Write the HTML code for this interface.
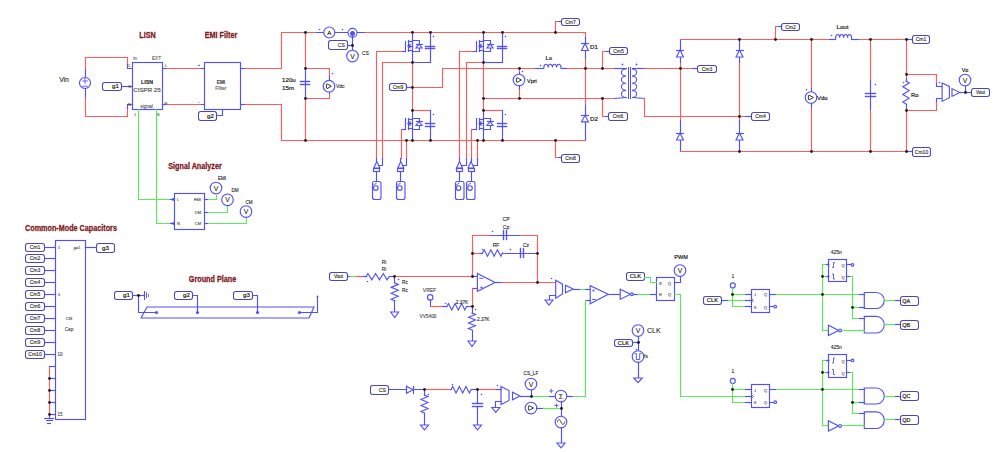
<!DOCTYPE html>
<html><head><meta charset="utf-8"><style>
html,body{margin:0;padding:0;background:#fff;width:1000px;height:452px;overflow:hidden;}
svg{display:block;}
text{font-family:"Liberation Sans",sans-serif;}
</style></head><body>
<svg width="1000" height="452" viewBox="0 0 1000 452">
<rect width="1000" height="452" fill="#fff"/>
<text x="64" y="82" font-size="6.8" fill="#1c1c1c" stroke="#1c1c1c" stroke-width="0.1" text-anchor="middle" font-weight="normal" font-family="Liberation Sans" >Vin</text>
<polyline points="85.5,69.5 85.5,57.5 127.5,57.5 127.5,64.5" fill="none" stroke="#ff5a5a" stroke-width="1.15" stroke-linecap="square"/>
<polyline points="127.5,64.5 127.5,68.5 132.5,68.5" fill="none" stroke="#5252f4" stroke-width="1.15" stroke-linecap="square"/>
<polyline points="85.5,69.5 85.5,97.5" fill="none" stroke="#5252f4" stroke-width="1.15" stroke-linecap="square"/>
<polyline points="85.5,97.5 85.5,116.5 127.5,116.5 127.5,108.5" fill="none" stroke="#ff5a5a" stroke-width="1.15" stroke-linecap="square"/>
<polyline points="127.5,108.5 127.5,104.5 132.5,104.5" fill="none" stroke="#5252f4" stroke-width="1.15" stroke-linecap="square"/>
<circle cx="85" cy="83" r="5.5" fill="#fff" stroke="#5252f4" stroke-width="1.15"/>
<polyline points="82.6,81 87.4,81" fill="none" stroke="#5252f4" stroke-width="0.9" stroke-linecap="square"/>
<polyline points="85,78.6 85,83.4" fill="none" stroke="#5252f4" stroke-width="0.9" stroke-linecap="square"/>
<polyline points="82.6,86.2 87.4,86.2" fill="none" stroke="#5252f4" stroke-width="0.9" stroke-linecap="square"/>
<rect x="102.5" y="82.5" width="19" height="8" rx="2.2" fill="#fff" stroke="#4a46b8" stroke-width="1.05"/>
<text x="119" y="88.4" font-size="6.2" fill="#1c1c1c" stroke="#1c1c1c" stroke-width="0.2" text-anchor="end" font-weight="normal" font-family="Liberation Sans" >g1</text>
<polyline points="121.5,86.5 132.5,86.5" fill="none" stroke="#5252f4" stroke-width="1.15" stroke-linecap="square"/>
<rect x="132.5" y="62.5" width="30" height="47" fill="#fff" stroke="#5252f4" stroke-width="1.15"/>
<text x="133.3" y="60" font-size="4.6" fill="#555" stroke="#555" stroke-width="0.1" text-anchor="start" font-weight="normal" font-family="Liberation Mono" >in</text>
<text x="156.5" y="60" font-size="4.6" fill="#555" stroke="#555" stroke-width="0.1" text-anchor="middle" font-weight="normal" font-family="Liberation Mono" >EXT</text>
<text x="129.5" y="67" font-size="4" fill="#444" stroke="#444" stroke-width="0.1" text-anchor="middle" font-weight="normal" font-family="Liberation Sans" >L</text>
<text x="129.5" y="88" font-size="4" fill="#444" stroke="#444" stroke-width="0.1" text-anchor="middle" font-weight="normal" font-family="Liberation Sans" >G</text>
<text x="129.5" y="106" font-size="4" fill="#444" stroke="#444" stroke-width="0.1" text-anchor="middle" font-weight="normal" font-family="Liberation Sans" >N</text>
<text x="166" y="67" font-size="4" fill="#444" stroke="#444" stroke-width="0.1" text-anchor="middle" font-weight="normal" font-family="Liberation Sans" >L</text>
<text x="166" y="105" font-size="4" fill="#444" stroke="#444" stroke-width="0.1" text-anchor="middle" font-weight="normal" font-family="Liberation Sans" >N</text>
<text x="147" y="84" font-size="5.3" fill="#1c1c1c" stroke="#1c1c1c" stroke-width="0.1" text-anchor="middle" font-weight="bold" font-family="Liberation Mono" >LISN</text>
<text x="147" y="92" font-size="6.2" fill="#555" stroke="#555" stroke-width="0.2" text-anchor="middle" font-weight="normal" font-family="Liberation Mono" >CISPR 25</text>
<text x="146.6" y="107.8" font-size="4.8" fill="#555" stroke="#555" stroke-width="0.1" text-anchor="middle" font-weight="normal" font-family="Liberation Mono" >signal</text>
<text x="135.5" y="115.5" font-size="4" fill="#444" stroke="#444" stroke-width="0.1" text-anchor="middle" font-weight="normal" font-family="Liberation Sans" >L</text>
<text x="158" y="115.5" font-size="4" fill="#444" stroke="#444" stroke-width="0.1" text-anchor="middle" font-weight="normal" font-family="Liberation Sans" >N</text>
<polyline points="162.5,68.5 167.5,68.5" fill="none" stroke="#5252f4" stroke-width="1.15" stroke-linecap="square"/>
<polyline points="167.5,68.5 201.5,68.5" fill="none" stroke="#ff5a5a" stroke-width="1.15" stroke-linecap="square"/>
<polyline points="201.5,68.5 204.5,68.5" fill="none" stroke="#5252f4" stroke-width="1.15" stroke-linecap="square"/>
<polyline points="162.5,104.5 167.5,104.5" fill="none" stroke="#5252f4" stroke-width="1.15" stroke-linecap="square"/>
<polyline points="167.5,104.5 201.5,104.5" fill="none" stroke="#ff5a5a" stroke-width="1.15" stroke-linecap="square"/>
<polyline points="201.5,104.5 204.5,104.5" fill="none" stroke="#5252f4" stroke-width="1.15" stroke-linecap="square"/>
<text x="199" y="66" font-size="4" fill="#444" stroke="#444" stroke-width="0.1" text-anchor="middle" font-weight="normal" font-family="Liberation Sans" >+</text>
<text x="199" y="103" font-size="4" fill="#444" stroke="#444" stroke-width="0.1" text-anchor="middle" font-weight="normal" font-family="Liberation Sans" >-</text>
<rect x="204.5" y="62.5" width="36" height="47" fill="#fff" stroke="#5252f4" stroke-width="1.15"/>
<text x="221" y="83.7" font-size="4.7" fill="#444" stroke="#444" stroke-width="0.1" text-anchor="middle" font-weight="bold" font-family="Liberation Mono" >EMI</text>
<text x="220.8" y="90.3" font-size="5.05" fill="#555" stroke="#555" stroke-width="0.1" text-anchor="middle" font-weight="normal" font-family="Liberation Mono" >Filter</text>
<rect x="198.5" y="111.5" width="18" height="9" rx="2.2" fill="#fff" stroke="#4a46b8" stroke-width="1.05"/>
<text x="214" y="117.9" font-size="6.2" fill="#1c1c1c" stroke="#1c1c1c" stroke-width="0.2" text-anchor="end" font-weight="normal" font-family="Liberation Sans" >g2</text>
<polyline points="216.5,115.5 222.5,115.5 222.5,109.5" fill="none" stroke="#5252f4" stroke-width="1.15" stroke-linecap="square"/>
<text transform="translate(147.5,38) scale(0.86,1)" font-size="8.4" fill="#7e1620" stroke="#7e1620" stroke-width="0.25" text-anchor="middle" font-weight="bold" font-family="Liberation Sans">LISN</text>
<text transform="translate(221,38) scale(0.86,1)" font-size="8.4" fill="#7e1620" stroke="#7e1620" stroke-width="0.25" text-anchor="middle" font-weight="bold" font-family="Liberation Sans">EMI Filter</text>
<polyline points="240.5,68.5 245.5,68.5" fill="none" stroke="#5252f4" stroke-width="1.15" stroke-linecap="square"/>
<polyline points="245.5,68.5 281.5,68.5 281.5,32.5 316.5,32.5" fill="none" stroke="#ff5a5a" stroke-width="1.15" stroke-linecap="square"/>
<polyline points="240.5,104.5 245.5,104.5" fill="none" stroke="#5252f4" stroke-width="1.15" stroke-linecap="square"/>
<polyline points="245.5,104.5 281.5,104.5 281.5,140.5 585.5,140.5 585.5,139.5" fill="none" stroke="#ff5a5a" stroke-width="1.15" stroke-linecap="square"/>
<polyline points="138.5,109.5 138.5,199.5 172.5,199.5" fill="none" stroke="#5ee85e" stroke-width="1.15" stroke-linecap="square"/>
<polyline points="156.5,109.5 156.5,223.5 172.5,223.5" fill="none" stroke="#5ee85e" stroke-width="1.15" stroke-linecap="square"/>
<polyline points="170.5,199.5 174.5,199.5" fill="none" stroke="#5252f4" stroke-width="1.15" stroke-linecap="square"/>
<polyline points="170.5,223.5 174.5,223.5" fill="none" stroke="#5252f4" stroke-width="1.15" stroke-linecap="square"/>
<text transform="translate(195,169) scale(0.86,1)" font-size="8.4" fill="#7e1620" stroke="#7e1620" stroke-width="0.25" text-anchor="middle" font-weight="bold" font-family="Liberation Sans">Signal Analyzer</text>
<rect x="174.5" y="193.5" width="30" height="36" fill="#fff" stroke="#5252f4" stroke-width="1.15"/>
<text x="177" y="201" font-size="4" fill="#444" stroke="#444" stroke-width="0.1" text-anchor="start" font-weight="normal" font-family="Liberation Sans" >L</text>
<text x="177" y="225" font-size="4" fill="#444" stroke="#444" stroke-width="0.1" text-anchor="start" font-weight="normal" font-family="Liberation Sans" >N</text>
<text x="201" y="201" font-size="4" fill="#444" stroke="#444" stroke-width="0.1" text-anchor="end" font-weight="normal" font-family="Liberation Sans" >EMI</text>
<text x="201" y="214" font-size="4" fill="#444" stroke="#444" stroke-width="0.1" text-anchor="end" font-weight="normal" font-family="Liberation Sans" >DM</text>
<text x="201" y="225" font-size="4" fill="#444" stroke="#444" stroke-width="0.1" text-anchor="end" font-weight="normal" font-family="Liberation Sans" >CM</text>
<polyline points="204.5,199.5 208.5,199.5" fill="none" stroke="#5252f4" stroke-width="1.15" stroke-linecap="square"/>
<polyline points="208.5,199.5 216.5,199.5 216.5,195.5" fill="none" stroke="#5ee85e" stroke-width="1.15" stroke-linecap="square"/>
<polyline points="204.5,212.5 208.5,212.5" fill="none" stroke="#5252f4" stroke-width="1.15" stroke-linecap="square"/>
<polyline points="208.5,212.5 227.5,212.5 227.5,206.5" fill="none" stroke="#5ee85e" stroke-width="1.15" stroke-linecap="square"/>
<polyline points="204.5,223.5 208.5,223.5" fill="none" stroke="#5252f4" stroke-width="1.15" stroke-linecap="square"/>
<polyline points="208.5,223.5 246.5,223.5 246.5,218.5" fill="none" stroke="#5ee85e" stroke-width="1.15" stroke-linecap="square"/>
<circle cx="216" cy="188" r="5.8" fill="#fff" stroke="#5252f4" stroke-width="1.15"/>
<text x="216" y="190.5" font-size="6.8" fill="#1c1c1c" stroke="#1c1c1c" stroke-width="0.1" text-anchor="middle" font-weight="normal" font-family="Liberation Sans" >V</text>
<circle cx="227.5" cy="199.8" r="5.8" fill="#fff" stroke="#5252f4" stroke-width="1.15"/>
<text x="227.5" y="202.3" font-size="6.8" fill="#1c1c1c" stroke="#1c1c1c" stroke-width="0.1" text-anchor="middle" font-weight="normal" font-family="Liberation Sans" >V</text>
<circle cx="246" cy="211.5" r="5.8" fill="#fff" stroke="#5252f4" stroke-width="1.15"/>
<text x="246" y="214" font-size="6.8" fill="#1c1c1c" stroke="#1c1c1c" stroke-width="0.1" text-anchor="middle" font-weight="normal" font-family="Liberation Sans" >V</text>
<text x="222" y="180" font-size="4.6" fill="#1c1c1c" stroke="#1c1c1c" stroke-width="0.1" text-anchor="middle" font-weight="normal" font-family="Liberation Sans" >EMI</text>
<text x="235" y="192" font-size="4.6" fill="#1c1c1c" stroke="#1c1c1c" stroke-width="0.1" text-anchor="middle" font-weight="normal" font-family="Liberation Sans" >DM</text>
<text x="249" y="203.5" font-size="4.6" fill="#1c1c1c" stroke="#1c1c1c" stroke-width="0.1" text-anchor="middle" font-weight="normal" font-family="Liberation Sans" >CM</text>
<text transform="translate(71,230.5) scale(0.86,1)" font-size="8.4" fill="#7e1620" stroke="#7e1620" stroke-width="0.25" text-anchor="middle" font-weight="bold" font-family="Liberation Sans">Common-Mode Capacitors</text>
<rect x="55.5" y="240.5" width="30" height="179" fill="#fff" stroke="#5252f4" stroke-width="1.15"/>
<rect x="25.5" y="243.5" width="19" height="8" rx="2.2" fill="#fff" stroke="#4a46b8" stroke-width="1.05"/>
<text x="35" y="249.4" font-size="5" fill="#1c1c1c" stroke="#1c1c1c" stroke-width="0.1" text-anchor="middle" font-weight="normal" font-family="Liberation Sans" >Cm1</text>
<polyline points="44.5,247.5 55.5,247.5" fill="none" stroke="#5252f4" stroke-width="1.15" stroke-linecap="square"/>
<rect x="25.5" y="254.5" width="19" height="8" rx="2.2" fill="#fff" stroke="#4a46b8" stroke-width="1.05"/>
<text x="35" y="260.4" font-size="5" fill="#1c1c1c" stroke="#1c1c1c" stroke-width="0.1" text-anchor="middle" font-weight="normal" font-family="Liberation Sans" >Cm2</text>
<polyline points="44.5,258.5 55.5,258.5" fill="none" stroke="#5252f4" stroke-width="1.15" stroke-linecap="square"/>
<rect x="25.5" y="266.5" width="19" height="8" rx="2.2" fill="#fff" stroke="#4a46b8" stroke-width="1.05"/>
<text x="35" y="272.4" font-size="5" fill="#1c1c1c" stroke="#1c1c1c" stroke-width="0.1" text-anchor="middle" font-weight="normal" font-family="Liberation Sans" >Cm3</text>
<polyline points="44.5,270.5 55.5,270.5" fill="none" stroke="#5252f4" stroke-width="1.15" stroke-linecap="square"/>
<rect x="25.5" y="278.5" width="19" height="8" rx="2.2" fill="#fff" stroke="#4a46b8" stroke-width="1.05"/>
<text x="35" y="284.4" font-size="5" fill="#1c1c1c" stroke="#1c1c1c" stroke-width="0.1" text-anchor="middle" font-weight="normal" font-family="Liberation Sans" >Cm4</text>
<polyline points="44.5,282.5 55.5,282.5" fill="none" stroke="#5252f4" stroke-width="1.15" stroke-linecap="square"/>
<rect x="25.5" y="290.5" width="19" height="8" rx="2.2" fill="#fff" stroke="#4a46b8" stroke-width="1.05"/>
<text x="35" y="296.4" font-size="5" fill="#1c1c1c" stroke="#1c1c1c" stroke-width="0.1" text-anchor="middle" font-weight="normal" font-family="Liberation Sans" >Cm5</text>
<polyline points="44.5,294.5 55.5,294.5" fill="none" stroke="#5252f4" stroke-width="1.15" stroke-linecap="square"/>
<rect x="25.5" y="302.5" width="19" height="8" rx="2.2" fill="#fff" stroke="#4a46b8" stroke-width="1.05"/>
<text x="35" y="308.4" font-size="5" fill="#1c1c1c" stroke="#1c1c1c" stroke-width="0.1" text-anchor="middle" font-weight="normal" font-family="Liberation Sans" >Cm6</text>
<polyline points="44.5,306.5 55.5,306.5" fill="none" stroke="#5252f4" stroke-width="1.15" stroke-linecap="square"/>
<rect x="25.5" y="314.5" width="19" height="8" rx="2.2" fill="#fff" stroke="#4a46b8" stroke-width="1.05"/>
<text x="35" y="320.4" font-size="5" fill="#1c1c1c" stroke="#1c1c1c" stroke-width="0.1" text-anchor="middle" font-weight="normal" font-family="Liberation Sans" >Cm7</text>
<polyline points="44.5,318.5 55.5,318.5" fill="none" stroke="#5252f4" stroke-width="1.15" stroke-linecap="square"/>
<rect x="25.5" y="326.5" width="19" height="8" rx="2.2" fill="#fff" stroke="#4a46b8" stroke-width="1.05"/>
<text x="35" y="332.4" font-size="5" fill="#1c1c1c" stroke="#1c1c1c" stroke-width="0.1" text-anchor="middle" font-weight="normal" font-family="Liberation Sans" >Cm8</text>
<polyline points="44.5,330.5 55.5,330.5" fill="none" stroke="#5252f4" stroke-width="1.15" stroke-linecap="square"/>
<rect x="25.5" y="338.5" width="19" height="8" rx="2.2" fill="#fff" stroke="#4a46b8" stroke-width="1.05"/>
<text x="35" y="344.4" font-size="5" fill="#1c1c1c" stroke="#1c1c1c" stroke-width="0.1" text-anchor="middle" font-weight="normal" font-family="Liberation Sans" >Cm9</text>
<polyline points="44.5,342.5 55.5,342.5" fill="none" stroke="#5252f4" stroke-width="1.15" stroke-linecap="square"/>
<rect x="25.5" y="350.5" width="19" height="8" rx="2.2" fill="#fff" stroke="#4a46b8" stroke-width="1.05"/>
<text x="35" y="356.4" font-size="5" fill="#1c1c1c" stroke="#1c1c1c" stroke-width="0.1" text-anchor="middle" font-weight="normal" font-family="Liberation Sans" >Cm10</text>
<polyline points="44.5,354.5 55.5,354.5" fill="none" stroke="#5252f4" stroke-width="1.15" stroke-linecap="square"/>
<text x="58" y="249" font-size="4" fill="#444" stroke="#444" stroke-width="0.1" text-anchor="start" font-weight="normal" font-family="Liberation Sans" >1</text>
<text x="58" y="296" font-size="4" fill="#444" stroke="#444" stroke-width="0.1" text-anchor="start" font-weight="normal" font-family="Liberation Sans" >5</text>
<text x="57.5" y="356" font-size="4.5" fill="#444" stroke="#444" stroke-width="0.1" text-anchor="start" font-weight="normal" font-family="Liberation Sans" >10</text>
<text x="57.5" y="416" font-size="4.5" fill="#444" stroke="#444" stroke-width="0.1" text-anchor="start" font-weight="normal" font-family="Liberation Sans" >15</text>
<text x="77" y="249" font-size="4" fill="#444" stroke="#444" stroke-width="0.1" text-anchor="middle" font-weight="normal" font-family="Liberation Sans" >g=1</text>
<text x="69" y="320" font-size="4.2" fill="#444" stroke="#444" stroke-width="0.1" text-anchor="middle" font-weight="normal" font-family="Liberation Sans" >CM</text>
<text x="69" y="331" font-size="4.6" fill="#444" stroke="#444" stroke-width="0.1" text-anchor="middle" font-weight="normal" font-family="Liberation Sans" >Cap</text>
<rect x="96.5" y="243.5" width="18" height="9" rx="2.2" fill="#fff" stroke="#4a46b8" stroke-width="1.05"/>
<text x="105.5" y="249.9" font-size="6.2" fill="#1c1c1c" stroke="#1c1c1c" stroke-width="0.2" text-anchor="middle" font-weight="normal" font-family="Liberation Sans" >g3</text>
<polyline points="85.5,247.5 96.5,247.5" fill="none" stroke="#5252f4" stroke-width="1.15" stroke-linecap="square"/>
<polyline points="49.5,366.5 49.5,414.5" fill="none" stroke="#ff5a5a" stroke-width="1.15" stroke-linecap="square"/>
<polyline points="49.5,366.5 55.5,366.5" fill="none" stroke="#5252f4" stroke-width="1.15" stroke-linecap="square"/>
<polyline points="49.5,378.5 55.5,378.5" fill="none" stroke="#5252f4" stroke-width="1.15" stroke-linecap="square"/>
<polyline points="49.5,390.5 55.5,390.5" fill="none" stroke="#5252f4" stroke-width="1.15" stroke-linecap="square"/>
<polyline points="49.5,402.5 55.5,402.5" fill="none" stroke="#5252f4" stroke-width="1.15" stroke-linecap="square"/>
<polyline points="49.5,414.5 55.5,414.5" fill="none" stroke="#5252f4" stroke-width="1.15" stroke-linecap="square"/>
<polyline points="49.5,414.5 49.5,418.5" fill="none" stroke="#5252f4" stroke-width="1.15" stroke-linecap="square"/>
<polyline points="44.5,418.5 53.5,418.5" fill="none" stroke="#5252f4" stroke-width="1.15" stroke-linecap="square"/>
<polyline points="46.5,420.5 52.5,420.5" fill="none" stroke="#5252f4" stroke-width="1.15" stroke-linecap="square"/>
<polyline points="47.5,423.5 50.5,423.5" fill="none" stroke="#5252f4" stroke-width="1.15" stroke-linecap="square"/>
<text transform="translate(212.5,281.5) scale(0.86,1)" font-size="8.4" fill="#7e1620" stroke="#7e1620" stroke-width="0.25" text-anchor="middle" font-weight="bold" font-family="Liberation Sans">Ground Plane</text>
<rect x="114.5" y="291.5" width="18" height="8" rx="2.2" fill="#fff" stroke="#4a46b8" stroke-width="1.05"/>
<text x="130" y="297.4" font-size="6.2" fill="#1c1c1c" stroke="#1c1c1c" stroke-width="0.2" text-anchor="end" font-weight="normal" font-family="Liberation Sans" >g1</text>
<rect x="174.5" y="291.5" width="18" height="8" rx="2.2" fill="#fff" stroke="#4a46b8" stroke-width="1.05"/>
<text x="190" y="297.4" font-size="6.2" fill="#1c1c1c" stroke="#1c1c1c" stroke-width="0.2" text-anchor="end" font-weight="normal" font-family="Liberation Sans" >g2</text>
<rect x="233.5" y="291.5" width="19" height="8" rx="2.2" fill="#fff" stroke="#4a46b8" stroke-width="1.05"/>
<text x="250" y="297.4" font-size="6.2" fill="#1c1c1c" stroke="#1c1c1c" stroke-width="0.2" text-anchor="end" font-weight="normal" font-family="Liberation Sans" >g3</text>
<polyline points="132.5,295.5 144.5,295.5" fill="none" stroke="#5252f4" stroke-width="1.15" stroke-linecap="square"/>
<polyline points="144.5,291.5 144.5,299.5" fill="none" stroke="#5252f4" stroke-width="1.1" stroke-linecap="square"/>
<polyline points="146.5,292.5 146.5,297.5" fill="none" stroke="#5252f4" stroke-width="0.9" stroke-linecap="square"/>
<polyline points="148.5,294.5 148.5,296.5" fill="none" stroke="#5252f4" stroke-width="0.8" stroke-linecap="square"/>
<polyline points="138.5,295.5 138.5,312.5 156.5,312.5" fill="none" stroke="#5252f4" stroke-width="1.15" stroke-linecap="square"/>
<polygon points="141,318 147,307 314,307 309,318" fill="none" stroke="#5252f4" stroke-width="1.15"/>
<polyline points="192.5,295.5 197.5,295.5 197.5,312.5" fill="none" stroke="#5252f4" stroke-width="1.15" stroke-linecap="square"/>
<polyline points="252.5,295.5 257.5,295.5 257.5,312.5" fill="none" stroke="#5252f4" stroke-width="1.15" stroke-linecap="square"/>
<polyline points="299.5,312.5 317.5,312.5 317.5,296.5" fill="none" stroke="#5252f4" stroke-width="1.15" stroke-linecap="square"/>
<polyline points="305.5,32.5 305.5,68.5" fill="none" stroke="#ff5a5a" stroke-width="1.15" stroke-linecap="square"/>
<polyline points="305.5,68.5 305.5,98.5" fill="none" stroke="#5252f4" stroke-width="1.15" stroke-linecap="square"/>
<polyline points="305.5,98.5 305.5,140.5" fill="none" stroke="#ff5a5a" stroke-width="1.15" stroke-linecap="square"/>
<polyline points="300.5,81.5 309.5,81.5" fill="none" stroke="#5252f4" stroke-width="1.4" stroke-linecap="square"/>
<polyline points="300.5,84.5 309.5,84.5" fill="none" stroke="#5252f4" stroke-width="1.4" stroke-linecap="square"/>
<text x="282" y="82" font-size="6.2" fill="#1c1c1c" stroke="#1c1c1c" stroke-width="0.2" text-anchor="start" font-weight="normal" font-family="Liberation Sans" >120u</text>
<text x="282" y="90" font-size="6.2" fill="#1c1c1c" stroke="#1c1c1c" stroke-width="0.2" text-anchor="start" font-weight="normal" font-family="Liberation Sans" >15m</text>
<polyline points="305.5,68.5 329.5,68.5 329.5,76.5" fill="none" stroke="#ff5a5a" stroke-width="1.15" stroke-linecap="square"/>
<polyline points="329.5,76.5 329.5,80.5" fill="none" stroke="#5252f4" stroke-width="1.15" stroke-linecap="square"/>
<polyline points="329.5,91.5 329.5,94.5" fill="none" stroke="#5252f4" stroke-width="1.15" stroke-linecap="square"/>
<polyline points="329.5,94.5 329.5,98.5 305.5,98.5" fill="none" stroke="#ff5a5a" stroke-width="1.15" stroke-linecap="square"/>
<circle cx="329" cy="86.2" r="5.8" fill="#fff" stroke="#5252f4" stroke-width="1.15"/>
<path d="M327,83.8 L331.4,86.2 L327,88.6 M326.4,83.9 v4.6" fill="none" stroke="#2a2a3a" stroke-width="0.95"/>
<text x="336" y="88" font-size="5" fill="#1c1c1c" stroke="#1c1c1c" stroke-width="0.1" text-anchor="start" font-weight="normal" font-family="Liberation Sans" >Vdc</text>
<polyline points="316.5,32.5 365.5,32.5" fill="none" stroke="#5252f4" stroke-width="1.15" stroke-linecap="square"/>
<circle cx="329.3" cy="32.5" r="5.5" fill="#fff" stroke="#5252f4" stroke-width="1.15"/>
<text x="329.3" y="34.8" font-size="6" fill="#1c1c1c" stroke="#1c1c1c" stroke-width="0.2" text-anchor="middle" font-weight="normal" font-family="Liberation Sans" >A</text>
<circle cx="352.5" cy="32.8" r="4.5" fill="#fff" stroke="#5252f4" stroke-width="1.15"/>
<polyline points="352.5,33.5 352.5,50.5" fill="none" stroke="#5252f4" stroke-width="1.15" stroke-linecap="square"/>
<rect x="328.5" y="40.5" width="19" height="9" rx="2.2" fill="#fff" stroke="#4a46b8" stroke-width="1.05"/>
<text x="345" y="46.9" font-size="5.2" fill="#1c1c1c" stroke="#1c1c1c" stroke-width="0.1" text-anchor="end" font-weight="normal" font-family="Liberation Sans" >CS</text>
<polyline points="347.5,45.5 352.5,45.5" fill="none" stroke="#5252f4" stroke-width="1.15" stroke-linecap="square"/>
<circle cx="352.5" cy="56" r="5.8" fill="#fff" stroke="#5252f4" stroke-width="1.15"/>
<text x="352.5" y="58.5" font-size="6.8" fill="#1c1c1c" stroke="#1c1c1c" stroke-width="0.1" text-anchor="middle" font-weight="normal" font-family="Liberation Sans" >V</text>
<text x="362" y="55" font-size="5" fill="#1c1c1c" stroke="#1c1c1c" stroke-width="0.1" text-anchor="start" font-weight="normal" font-family="Liberation Sans" >CS</text>
<polyline points="365.5,32.5 585.5,32.5 585.5,37.5" fill="none" stroke="#ff5a5a" stroke-width="1.15" stroke-linecap="square"/>
<polyline points="412.5,32.5 412.5,62.5 430.5,62.5 430.5,32.5" fill="none" stroke="#5252f4" stroke-width="1.15" stroke-linecap="square"/>
<polyline points="405.5,41.5 405.5,51.5" fill="none" stroke="#5252f4" stroke-width="1.15" stroke-linecap="square"/>
<polyline points="408.5,40.5 408.5,43.5" fill="none" stroke="#5252f4" stroke-width="1.15" stroke-linecap="square"/>
<polyline points="408.5,44.5 408.5,47.5" fill="none" stroke="#5252f4" stroke-width="1.15" stroke-linecap="square"/>
<polyline points="408.5,48.5 408.5,51.5" fill="none" stroke="#5252f4" stroke-width="1.15" stroke-linecap="square"/>
<polyline points="408.5,41.5 412.5,41.5" fill="none" stroke="#5252f4" stroke-width="1.15" stroke-linecap="square"/>
<polyline points="408.5,50.5 412.5,50.5" fill="none" stroke="#5252f4" stroke-width="1.15" stroke-linecap="square"/>
<polyline points="408.5,46.5 412.5,46.5" fill="none" stroke="#5252f4" stroke-width="1.15" stroke-linecap="square"/>
<polygon points="408,46 410,44.4 410,47.6" fill="#5252f4" stroke="#5252f4" stroke-width="1.15"/>
<polyline points="412.5,40.5 419.5,40.5 419.5,51.5 412.5,51.5" fill="none" stroke="#5252f4" stroke-width="1.15" stroke-linecap="square"/>
<polygon points="416,48 422,48 419,44" fill="#fff" stroke="#5252f4" stroke-width="1.15"/>
<polyline points="416.5,44.5 422.5,44.5" fill="none" stroke="#5252f4" stroke-width="1.15" stroke-linecap="square"/>
<polyline points="405.5,51.5 401.5,51.5" fill="none" stroke="#5252f4" stroke-width="1.15" stroke-linecap="square"/>
<polyline points="401.5,51.5 376.5,51.5 376.5,158.5" fill="none" stroke="#ff5a5a" stroke-width="1.15" stroke-linecap="square"/>
<polyline points="425.5,46.5 434.5,46.5" fill="none" stroke="#5252f4" stroke-width="1.4" stroke-linecap="square"/>
<polyline points="425.5,48.5 434.5,48.5" fill="none" stroke="#5252f4" stroke-width="1.4" stroke-linecap="square"/>
<polyline points="382.5,158.5 382.5,62.5 412.5,62.5" fill="none" stroke="#ff5a5a" stroke-width="1.15" stroke-linecap="square"/>
<polyline points="412.5,62.5 412.5,110.5" fill="none" stroke="#ff5a5a" stroke-width="1.15" stroke-linecap="square"/>
<rect x="389.5" y="83.5" width="17" height="7" rx="2.2" fill="#fff" stroke="#4a46b8" stroke-width="1.05"/>
<text x="398" y="88.9" font-size="5" fill="#1c1c1c" stroke="#1c1c1c" stroke-width="0.1" text-anchor="middle" font-weight="normal" font-family="Liberation Sans" >Cm9</text>
<polyline points="406.5,87.5 412.5,87.5" fill="none" stroke="#5252f4" stroke-width="1.15" stroke-linecap="square"/>
<polyline points="412.5,87.5 442.5,87.5 442.5,68.5 535.5,68.5" fill="none" stroke="#ff5a5a" stroke-width="1.15" stroke-linecap="square"/>
<polyline points="412.5,110.5 430.5,110.5" fill="none" stroke="#ff5a5a" stroke-width="1.15" stroke-linecap="square"/>
<polyline points="412.5,110.5 412.5,140.5" fill="none" stroke="#5252f4" stroke-width="1.15" stroke-linecap="square"/>
<polyline points="430.5,110.5 430.5,140.5" fill="none" stroke="#5252f4" stroke-width="1.15" stroke-linecap="square"/>
<polyline points="405.5,118.5 405.5,129.5" fill="none" stroke="#5252f4" stroke-width="1.15" stroke-linecap="square"/>
<polyline points="408.5,118.5 408.5,121.5" fill="none" stroke="#5252f4" stroke-width="1.15" stroke-linecap="square"/>
<polyline points="408.5,122.5 408.5,125.5" fill="none" stroke="#5252f4" stroke-width="1.15" stroke-linecap="square"/>
<polyline points="408.5,126.5 408.5,129.5" fill="none" stroke="#5252f4" stroke-width="1.15" stroke-linecap="square"/>
<polyline points="408.5,119.5 412.5,119.5" fill="none" stroke="#5252f4" stroke-width="1.15" stroke-linecap="square"/>
<polyline points="408.5,128.5 412.5,128.5" fill="none" stroke="#5252f4" stroke-width="1.15" stroke-linecap="square"/>
<polyline points="408.5,123.5 412.5,123.5" fill="none" stroke="#5252f4" stroke-width="1.15" stroke-linecap="square"/>
<polygon points="408,123.5 410,121.9 410,125.1" fill="#5252f4" stroke="#5252f4" stroke-width="1.15"/>
<polyline points="412.5,118.5 419.5,118.5 419.5,129.5 412.5,129.5" fill="none" stroke="#5252f4" stroke-width="1.15" stroke-linecap="square"/>
<polygon points="416,125.5 422,125.5 419,121.5" fill="#fff" stroke="#5252f4" stroke-width="1.15"/>
<polyline points="416.5,121.5 422.5,121.5" fill="none" stroke="#5252f4" stroke-width="1.15" stroke-linecap="square"/>
<polyline points="425.5,123.5 434.5,123.5" fill="none" stroke="#5252f4" stroke-width="1.4" stroke-linecap="square"/>
<polyline points="425.5,126.5 434.5,126.5" fill="none" stroke="#5252f4" stroke-width="1.4" stroke-linecap="square"/>
<polyline points="405.5,129.5 401.5,129.5" fill="none" stroke="#5252f4" stroke-width="1.15" stroke-linecap="square"/>
<polyline points="401.5,129.5 401.5,158.5" fill="none" stroke="#ff5a5a" stroke-width="1.15" stroke-linecap="square"/>
<polyline points="406.5,140.5 406.5,158.5" fill="none" stroke="#ff5a5a" stroke-width="1.15" stroke-linecap="square"/>
<polyline points="483.5,32.5 483.5,62.5" fill="none" stroke="#5252f4" stroke-width="1.15" stroke-linecap="square"/>
<polyline points="502.5,32.5 502.5,62.5" fill="none" stroke="#5252f4" stroke-width="1.15" stroke-linecap="square"/>
<polyline points="476.5,41.5 476.5,51.5" fill="none" stroke="#5252f4" stroke-width="1.15" stroke-linecap="square"/>
<polyline points="479.5,40.5 479.5,43.5" fill="none" stroke="#5252f4" stroke-width="1.15" stroke-linecap="square"/>
<polyline points="479.5,44.5 479.5,47.5" fill="none" stroke="#5252f4" stroke-width="1.15" stroke-linecap="square"/>
<polyline points="479.5,48.5 479.5,51.5" fill="none" stroke="#5252f4" stroke-width="1.15" stroke-linecap="square"/>
<polyline points="479.5,41.5 483.5,41.5" fill="none" stroke="#5252f4" stroke-width="1.15" stroke-linecap="square"/>
<polyline points="479.5,50.5 483.5,50.5" fill="none" stroke="#5252f4" stroke-width="1.15" stroke-linecap="square"/>
<polyline points="479.5,46.5 483.5,46.5" fill="none" stroke="#5252f4" stroke-width="1.15" stroke-linecap="square"/>
<polygon points="479,46 481,44.4 481,47.6" fill="#5252f4" stroke="#5252f4" stroke-width="1.15"/>
<polyline points="483.5,40.5 490.5,40.5 490.5,51.5 483.5,51.5" fill="none" stroke="#5252f4" stroke-width="1.15" stroke-linecap="square"/>
<polygon points="487,48 493,48 490,44" fill="#fff" stroke="#5252f4" stroke-width="1.15"/>
<polyline points="487.5,44.5 493.5,44.5" fill="none" stroke="#5252f4" stroke-width="1.15" stroke-linecap="square"/>
<polyline points="497.5,46.5 506.5,46.5" fill="none" stroke="#5252f4" stroke-width="1.4" stroke-linecap="square"/>
<polyline points="497.5,48.5 506.5,48.5" fill="none" stroke="#5252f4" stroke-width="1.4" stroke-linecap="square"/>
<polyline points="483.5,62.5 502.5,62.5" fill="none" stroke="#5252f4" stroke-width="1.15" stroke-linecap="square"/>
<polyline points="476.5,51.5 472.5,51.5" fill="none" stroke="#5252f4" stroke-width="1.15" stroke-linecap="square"/>
<polyline points="472.5,51.5 459.5,51.5 459.5,158.5" fill="none" stroke="#ff5a5a" stroke-width="1.15" stroke-linecap="square"/>
<polyline points="466.5,158.5 466.5,62.5 483.5,62.5" fill="none" stroke="#ff5a5a" stroke-width="1.15" stroke-linecap="square"/>
<polyline points="483.5,62.5 483.5,110.5" fill="none" stroke="#ff5a5a" stroke-width="1.15" stroke-linecap="square"/>
<polyline points="483.5,110.5 502.5,110.5" fill="none" stroke="#ff5a5a" stroke-width="1.15" stroke-linecap="square"/>
<polyline points="483.5,110.5 483.5,140.5" fill="none" stroke="#5252f4" stroke-width="1.15" stroke-linecap="square"/>
<polyline points="502.5,110.5 502.5,140.5" fill="none" stroke="#5252f4" stroke-width="1.15" stroke-linecap="square"/>
<polyline points="476.5,118.5 476.5,129.5" fill="none" stroke="#5252f4" stroke-width="1.15" stroke-linecap="square"/>
<polyline points="479.5,118.5 479.5,121.5" fill="none" stroke="#5252f4" stroke-width="1.15" stroke-linecap="square"/>
<polyline points="479.5,122.5 479.5,125.5" fill="none" stroke="#5252f4" stroke-width="1.15" stroke-linecap="square"/>
<polyline points="479.5,126.5 479.5,129.5" fill="none" stroke="#5252f4" stroke-width="1.15" stroke-linecap="square"/>
<polyline points="479.5,119.5 483.5,119.5" fill="none" stroke="#5252f4" stroke-width="1.15" stroke-linecap="square"/>
<polyline points="479.5,128.5 483.5,128.5" fill="none" stroke="#5252f4" stroke-width="1.15" stroke-linecap="square"/>
<polyline points="479.5,123.5 483.5,123.5" fill="none" stroke="#5252f4" stroke-width="1.15" stroke-linecap="square"/>
<polygon points="479,123.5 481,121.9 481,125.1" fill="#5252f4" stroke="#5252f4" stroke-width="1.15"/>
<polyline points="483.5,118.5 490.5,118.5 490.5,129.5 483.5,129.5" fill="none" stroke="#5252f4" stroke-width="1.15" stroke-linecap="square"/>
<polygon points="487,125.5 493,125.5 490,121.5" fill="#fff" stroke="#5252f4" stroke-width="1.15"/>
<polyline points="487.5,121.5 493.5,121.5" fill="none" stroke="#5252f4" stroke-width="1.15" stroke-linecap="square"/>
<polyline points="497.5,123.5 506.5,123.5" fill="none" stroke="#5252f4" stroke-width="1.4" stroke-linecap="square"/>
<polyline points="497.5,126.5 506.5,126.5" fill="none" stroke="#5252f4" stroke-width="1.4" stroke-linecap="square"/>
<polyline points="476.5,129.5 471.5,129.5" fill="none" stroke="#5252f4" stroke-width="1.15" stroke-linecap="square"/>
<polyline points="471.5,129.5 471.5,158.5" fill="none" stroke="#ff5a5a" stroke-width="1.15" stroke-linecap="square"/>
<polyline points="477.5,140.5 477.5,158.5" fill="none" stroke="#ff5a5a" stroke-width="1.15" stroke-linecap="square"/>
<polyline points="376.5,158.5 376.5,161.5" fill="none" stroke="#5252f4" stroke-width="1.15" stroke-linecap="square"/>
<polygon points="376.8,161.6 373.8,168 379.8,168" fill="#fff" stroke="#5252f4" stroke-width="1.15"/>
<rect x="373.5" y="168.5" width="6" height="3" fill="#fff" stroke="#5252f4" stroke-width="1.15"/>
<polyline points="382.5,158.5 382.5,165.5 379.5,165.5" fill="none" stroke="#5252f4" stroke-width="1.15" stroke-linecap="square"/>
<polyline points="376.5,171.5 376.5,181.5" fill="none" stroke="#5252f4" stroke-width="1.15" stroke-linecap="square"/>
<rect x="372.5" y="181.5" width="8.5" height="18" rx="2" fill="#fff" stroke="#5252f4" stroke-width="1.15"/>
<circle cx="375.8" cy="188" r="2.3" fill="none" stroke="#5252f4" stroke-width="1.15"/>
<polyline points="373.6,185 376.3,183.2" fill="none" stroke="#5252f4" stroke-width="0.9" stroke-linecap="square"/>
<polyline points="400.5,158.5 400.5,161.5" fill="none" stroke="#5252f4" stroke-width="1.15" stroke-linecap="square"/>
<polygon points="400.8,161.6 397.8,168 403.8,168" fill="#fff" stroke="#5252f4" stroke-width="1.15"/>
<rect x="397.5" y="168.5" width="6" height="3" fill="#fff" stroke="#5252f4" stroke-width="1.15"/>
<polyline points="406.5,158.5 406.5,165.5 403.5,165.5" fill="none" stroke="#5252f4" stroke-width="1.15" stroke-linecap="square"/>
<polyline points="400.5,171.5 400.5,181.5" fill="none" stroke="#5252f4" stroke-width="1.15" stroke-linecap="square"/>
<rect x="396.5" y="181.5" width="8.5" height="18" rx="2" fill="#fff" stroke="#5252f4" stroke-width="1.15"/>
<circle cx="399.8" cy="188" r="2.3" fill="none" stroke="#5252f4" stroke-width="1.15"/>
<polyline points="397.6,185 400.3,183.2" fill="none" stroke="#5252f4" stroke-width="0.9" stroke-linecap="square"/>
<polyline points="459.5,158.5 459.5,161.5" fill="none" stroke="#5252f4" stroke-width="1.15" stroke-linecap="square"/>
<polygon points="459.5,161.6 456.5,168 462.5,168" fill="#fff" stroke="#5252f4" stroke-width="1.15"/>
<rect x="456.5" y="168.5" width="6" height="3" fill="#fff" stroke="#5252f4" stroke-width="1.15"/>
<polyline points="466.5,158.5 466.5,165.5 461.5,165.5" fill="none" stroke="#5252f4" stroke-width="1.15" stroke-linecap="square"/>
<polyline points="459.5,171.5 459.5,181.5" fill="none" stroke="#5252f4" stroke-width="1.15" stroke-linecap="square"/>
<rect x="455.5" y="181.5" width="8.5" height="18" rx="2" fill="#fff" stroke="#5252f4" stroke-width="1.15"/>
<circle cx="458.5" cy="188" r="2.3" fill="none" stroke="#5252f4" stroke-width="1.15"/>
<polyline points="456.3,185 459,183.2" fill="none" stroke="#5252f4" stroke-width="0.9" stroke-linecap="square"/>
<polyline points="471.5,158.5 471.5,161.5" fill="none" stroke="#5252f4" stroke-width="1.15" stroke-linecap="square"/>
<polygon points="471,161.6 468,168 474,168" fill="#fff" stroke="#5252f4" stroke-width="1.15"/>
<rect x="468.5" y="168.5" width="6" height="3" fill="#fff" stroke="#5252f4" stroke-width="1.15"/>
<polyline points="477.5,158.5 477.5,165.5 473.5,165.5" fill="none" stroke="#5252f4" stroke-width="1.15" stroke-linecap="square"/>
<polyline points="471.5,171.5 471.5,181.5" fill="none" stroke="#5252f4" stroke-width="1.15" stroke-linecap="square"/>
<rect x="466.5" y="181.5" width="8.5" height="18" rx="2" fill="#fff" stroke="#5252f4" stroke-width="1.15"/>
<circle cx="470" cy="188" r="2.3" fill="none" stroke="#5252f4" stroke-width="1.15"/>
<polyline points="467.8,185 470.5,183.2" fill="none" stroke="#5252f4" stroke-width="0.9" stroke-linecap="square"/>
<polyline points="585.5,58.5 585.5,68.5" fill="none" stroke="#ff5a5a" stroke-width="1.15" stroke-linecap="square"/>
<polyline points="585.5,37.5 585.5,58.5" fill="none" stroke="#5252f4" stroke-width="1.15" stroke-linecap="square"/>
<polygon points="581.5,50.5 588.5,50.5 585,43.5" fill="#fff" stroke="#5252f4" stroke-width="1.15"/>
<polyline points="581.5,43.5 588.5,43.5" fill="none" stroke="#5252f4" stroke-width="1.15" stroke-linecap="square"/>
<text x="590" y="49" font-size="6.2" fill="#1c1c1c" stroke="#1c1c1c" stroke-width="0.2" text-anchor="start" font-weight="normal" font-family="Liberation Sans" >D1</text>
<polyline points="585.5,68.5 585.5,105.5" fill="none" stroke="#ff5a5a" stroke-width="1.15" stroke-linecap="square"/>
<polyline points="585.5,105.5 585.5,139.5" fill="none" stroke="#5252f4" stroke-width="1.15" stroke-linecap="square"/>
<polygon points="581.5,121.85 588.5,121.85 585,115.35" fill="#fff" stroke="#5252f4" stroke-width="1.15"/>
<polyline points="581.5,115.5 588.5,115.5" fill="none" stroke="#5252f4" stroke-width="1.15" stroke-linecap="square"/>
<text x="590" y="121" font-size="6.2" fill="#1c1c1c" stroke="#1c1c1c" stroke-width="0.2" text-anchor="start" font-weight="normal" font-family="Liberation Sans" >D2</text>
<polyline points="555.5,32.5 555.5,21.5 558.5,21.5" fill="none" stroke="#ff5a5a" stroke-width="1.15" stroke-linecap="square"/>
<polyline points="558.5,21.5 561.5,21.5" fill="none" stroke="#5252f4" stroke-width="1.15" stroke-linecap="square"/>
<rect x="561.5" y="18.5" width="18" height="7" rx="2.2" fill="#fff" stroke="#4a46b8" stroke-width="1.05"/>
<text x="570.5" y="23.9" font-size="5" fill="#1c1c1c" stroke="#1c1c1c" stroke-width="0.1" text-anchor="middle" font-weight="normal" font-family="Liberation Sans" >Cm7</text>
<polyline points="555.5,140.5 555.5,157.5 558.5,157.5" fill="none" stroke="#ff5a5a" stroke-width="1.15" stroke-linecap="square"/>
<polyline points="558.5,157.5 561.5,157.5" fill="none" stroke="#5252f4" stroke-width="1.15" stroke-linecap="square"/>
<rect x="561.5" y="154.5" width="18" height="8" rx="2.2" fill="#fff" stroke="#4a46b8" stroke-width="1.05"/>
<text x="570.5" y="160.4" font-size="5" fill="#1c1c1c" stroke="#1c1c1c" stroke-width="0.1" text-anchor="middle" font-weight="normal" font-family="Liberation Sans" >Cm8</text>
<polyline points="535.5,68.5 543.5,68.5" fill="none" stroke="#5252f4" stroke-width="1.15" stroke-linecap="square"/>
<path d="M543.6,68.75 L543.9,67.55 C543.7,63.175 548.35,63.175 548.15,67.55 C547.95,63.175 552.6,63.175 552.4,67.55 C552.2,63.175 556.85,63.175 556.65,67.55 C556.45,63.175 561.1,63.175 560.9,67.55 L561.2,68.75" fill="none" stroke="#5252f4" stroke-width="1.15"/>
<polyline points="561.5,68.5 567.5,68.5" fill="none" stroke="#5252f4" stroke-width="1.15" stroke-linecap="square"/>
<polyline points="567.5,68.5 614.5,68.5" fill="none" stroke="#ff5a5a" stroke-width="1.15" stroke-linecap="square"/>
<text x="548.8" y="59.8" font-size="6.2" fill="#1c1c1c" stroke="#1c1c1c" stroke-width="0.2" text-anchor="middle" font-weight="normal" font-family="Liberation Sans" >Ls</text>
<polyline points="519.5,68.5 519.5,72.5" fill="none" stroke="#ff5a5a" stroke-width="1.15" stroke-linecap="square"/>
<polyline points="519.5,72.5 519.5,74.5" fill="none" stroke="#5252f4" stroke-width="1.15" stroke-linecap="square"/>
<circle cx="519" cy="80" r="5.8" fill="#fff" stroke="#5252f4" stroke-width="1.15"/>
<path d="M517,77.6 L521.4,80 L517,82.4 M516.4,77.7 v4.6" fill="none" stroke="#2a2a3a" stroke-width="0.95"/>
<polyline points="519.5,85.5 519.5,90.5" fill="none" stroke="#5252f4" stroke-width="1.15" stroke-linecap="square"/>
<polyline points="519.5,90.5 519.5,98.5" fill="none" stroke="#ff5a5a" stroke-width="1.15" stroke-linecap="square"/>
<text x="527" y="83" font-size="5.5" fill="#1c1c1c" stroke="#1c1c1c" stroke-width="0.2" text-anchor="start" font-weight="normal" font-family="Liberation Sans" >Vpri</text>
<polyline points="483.5,98.5 614.5,98.5" fill="none" stroke="#ff5a5a" stroke-width="1.15" stroke-linecap="square"/>
<polyline points="602.5,68.5 602.5,51.5 606.5,51.5" fill="none" stroke="#ff5a5a" stroke-width="1.15" stroke-linecap="square"/>
<polyline points="606.5,51.5 609.5,51.5" fill="none" stroke="#5252f4" stroke-width="1.15" stroke-linecap="square"/>
<rect x="609.5" y="47.5" width="18" height="7" rx="2.2" fill="#fff" stroke="#4a46b8" stroke-width="1.05"/>
<text x="618.5" y="52.9" font-size="5" fill="#1c1c1c" stroke="#1c1c1c" stroke-width="0.1" text-anchor="middle" font-weight="normal" font-family="Liberation Sans" >Cm5</text>
<polyline points="602.5,98.5 602.5,116.5 605.5,116.5" fill="none" stroke="#ff5a5a" stroke-width="1.15" stroke-linecap="square"/>
<polyline points="605.5,116.5 608.5,116.5" fill="none" stroke="#5252f4" stroke-width="1.15" stroke-linecap="square"/>
<rect x="608.5" y="112.5" width="19" height="8" rx="2.2" fill="#fff" stroke="#4a46b8" stroke-width="1.05"/>
<text x="618" y="118.4" font-size="5" fill="#1c1c1c" stroke="#1c1c1c" stroke-width="0.1" text-anchor="middle" font-weight="normal" font-family="Liberation Sans" >Cm6</text>
<polyline points="614.5,68.5 626.5,68.5" fill="none" stroke="#5252f4" stroke-width="1.15" stroke-linecap="square"/>
<path d="M626,69 a4.6,3.5625 0 0 0 0,7.125 a4.6,3.5625 0 0 0 0,7.125 a4.6,3.5625 0 0 0 0,7.125 a4.6,3.5625 0 0 0 0,7.125 " fill="none" stroke="#5252f4" stroke-width="1.15"/>
<polyline points="626.5,97.5 614.5,98.5" fill="none" stroke="#5252f4" stroke-width="1.15" stroke-linecap="square"/>
<polyline points="628.5,67.5 628.5,98.5" fill="none" stroke="#5252f4" stroke-width="1" stroke-linecap="square"/>
<polyline points="630.5,67.5 630.5,98.5" fill="none" stroke="#5252f4" stroke-width="1" stroke-linecap="square"/>
<polyline points="644.5,68.5 632.5,68.5" fill="none" stroke="#5252f4" stroke-width="1.15" stroke-linecap="square"/>
<path d="M632,69 a4.6,3.5625 0 0 1 0,7.125 a4.6,3.5625 0 0 1 0,7.125 a4.6,3.5625 0 0 1 0,7.125 a4.6,3.5625 0 0 1 0,7.125 " fill="none" stroke="#5252f4" stroke-width="1.15"/>
<polyline points="632.5,97.5 644.5,98.5" fill="none" stroke="#5252f4" stroke-width="1.15" stroke-linecap="square"/>
<polyline points="644.5,68.5 680.5,68.5 692.5,68.5" fill="none" stroke="#ff5a5a" stroke-width="1.15" stroke-linecap="square"/>
<polyline points="692.5,68.5 697.5,68.5" fill="none" stroke="#5252f4" stroke-width="1.15" stroke-linecap="square"/>
<polyline points="644.5,98.5 644.5,116.5 739.5,116.5 745.5,116.5" fill="none" stroke="#ff5a5a" stroke-width="1.15" stroke-linecap="square"/>
<polyline points="745.5,116.5 751.5,116.5" fill="none" stroke="#5252f4" stroke-width="1.15" stroke-linecap="square"/>
<rect x="697.5" y="65.5" width="19" height="7" rx="2.2" fill="#fff" stroke="#4a46b8" stroke-width="1.05"/>
<text x="707" y="70.9" font-size="5" fill="#1c1c1c" stroke="#1c1c1c" stroke-width="0.1" text-anchor="middle" font-weight="normal" font-family="Liberation Sans" >Cm3</text>
<rect x="751.5" y="112.5" width="18" height="8" rx="2.2" fill="#fff" stroke="#4a46b8" stroke-width="1.05"/>
<text x="760.5" y="118.4" font-size="5" fill="#1c1c1c" stroke="#1c1c1c" stroke-width="0.1" text-anchor="middle" font-weight="normal" font-family="Liberation Sans" >Cm4</text>
<polyline points="680.5,62.5 680.5,120.5" fill="none" stroke="#ff5a5a" stroke-width="1.15" stroke-linecap="square"/>
<polyline points="680.5,39.5 680.5,62.5" fill="none" stroke="#5252f4" stroke-width="1.15" stroke-linecap="square"/>
<polygon points="676.5,57 683.5,57 680,50" fill="#fff" stroke="#5252f4" stroke-width="1.15"/>
<polyline points="676.5,50.5 683.5,50.5" fill="none" stroke="#5252f4" stroke-width="1.15" stroke-linecap="square"/>
<polyline points="680.5,120.5 680.5,151.5" fill="none" stroke="#5252f4" stroke-width="1.15" stroke-linecap="square"/>
<polygon points="676.5,140 683.5,140 680,133" fill="#fff" stroke="#5252f4" stroke-width="1.15"/>
<polyline points="676.5,133.5 683.5,133.5" fill="none" stroke="#5252f4" stroke-width="1.15" stroke-linecap="square"/>
<polyline points="739.5,62.5 739.5,120.5" fill="none" stroke="#ff5a5a" stroke-width="1.15" stroke-linecap="square"/>
<polyline points="739.5,39.5 739.5,62.5" fill="none" stroke="#5252f4" stroke-width="1.15" stroke-linecap="square"/>
<polygon points="736,57 743,57 739.5,50" fill="#fff" stroke="#5252f4" stroke-width="1.15"/>
<polyline points="736.5,50.5 743.5,50.5" fill="none" stroke="#5252f4" stroke-width="1.15" stroke-linecap="square"/>
<polyline points="739.5,120.5 739.5,151.5" fill="none" stroke="#5252f4" stroke-width="1.15" stroke-linecap="square"/>
<polygon points="736,140 743,140 739.5,133" fill="#fff" stroke="#5252f4" stroke-width="1.15"/>
<polyline points="736.5,133.5 743.5,133.5" fill="none" stroke="#5252f4" stroke-width="1.15" stroke-linecap="square"/>
<polyline points="680.5,39.5 829.5,39.5" fill="none" stroke="#ff5a5a" stroke-width="1.15" stroke-linecap="square"/>
<polyline points="680.5,151.5 912.5,151.5" fill="none" stroke="#ff5a5a" stroke-width="1.15" stroke-linecap="square"/>
<polyline points="775.5,39.5 775.5,26.5 778.5,26.5" fill="none" stroke="#ff5a5a" stroke-width="1.15" stroke-linecap="square"/>
<polyline points="778.5,26.5 781.5,26.5" fill="none" stroke="#5252f4" stroke-width="1.15" stroke-linecap="square"/>
<rect x="781.5" y="23.5" width="18" height="7" rx="2.2" fill="#fff" stroke="#4a46b8" stroke-width="1.05"/>
<text x="790.5" y="28.9" font-size="5" fill="#1c1c1c" stroke="#1c1c1c" stroke-width="0.1" text-anchor="middle" font-weight="normal" font-family="Liberation Sans" >Cm2</text>
<polyline points="811.5,39.5 811.5,88.5" fill="none" stroke="#ff5a5a" stroke-width="1.15" stroke-linecap="square"/>
<polyline points="811.5,88.5 811.5,91.5" fill="none" stroke="#5252f4" stroke-width="1.15" stroke-linecap="square"/>
<circle cx="811" cy="97.5" r="5.8" fill="#fff" stroke="#5252f4" stroke-width="1.15"/>
<path d="M809,95.1 L813.4,97.5 L809,99.9 M808.4,95.2 v4.6" fill="none" stroke="#2a2a3a" stroke-width="0.95"/>
<polyline points="811.5,103.5 811.5,108.5" fill="none" stroke="#5252f4" stroke-width="1.15" stroke-linecap="square"/>
<polyline points="811.5,108.5 811.5,151.5" fill="none" stroke="#ff5a5a" stroke-width="1.15" stroke-linecap="square"/>
<text x="817" y="100" font-size="6" fill="#1c1c1c" stroke="#1c1c1c" stroke-width="0.2" text-anchor="start" font-weight="normal" font-family="Liberation Sans" >Vdo</text>
<polyline points="829.5,39.5 835.5,39.5" fill="none" stroke="#5252f4" stroke-width="1.15" stroke-linecap="square"/>
<path d="M835.4,39 L835.7,37.8 C835.5,33.425 839.85,33.425 839.65,37.8 C839.45,33.425 843.8,33.425 843.6,37.8 C843.4,33.425 847.75,33.425 847.55,37.8 C847.35,33.425 851.7,33.425 851.5,37.8 L851.8,39" fill="none" stroke="#5252f4" stroke-width="1.15"/>
<polyline points="851.5,39.5 859.5,39.5" fill="none" stroke="#5252f4" stroke-width="1.15" stroke-linecap="square"/>
<polyline points="859.5,39.5 906.5,39.5" fill="none" stroke="#ff5a5a" stroke-width="1.15" stroke-linecap="square"/>
<text x="842.5" y="29" font-size="6.2" fill="#1c1c1c" stroke="#1c1c1c" stroke-width="0.2" text-anchor="middle" font-weight="normal" font-family="Liberation Sans" >Lout</text>
<polyline points="870.5,39.5 870.5,80.5" fill="none" stroke="#ff5a5a" stroke-width="1.15" stroke-linecap="square"/>
<polyline points="870.5,80.5 870.5,110.5" fill="none" stroke="#5252f4" stroke-width="1.15" stroke-linecap="square"/>
<polyline points="865.5,93.5 875.5,93.5" fill="none" stroke="#5252f4" stroke-width="1.4" stroke-linecap="square"/>
<polyline points="865.5,96.5 875.5,96.5" fill="none" stroke="#5252f4" stroke-width="1.4" stroke-linecap="square"/>
<polyline points="870.5,110.5 870.5,151.5" fill="none" stroke="#ff5a5a" stroke-width="1.15" stroke-linecap="square"/>
<polyline points="906.5,39.5 912.5,39.5" fill="none" stroke="#5252f4" stroke-width="1.15" stroke-linecap="square"/>
<rect x="912.5" y="35.5" width="17" height="8" rx="2.2" fill="#fff" stroke="#4a46b8" stroke-width="1.05"/>
<text x="921" y="41.4" font-size="5" fill="#1c1c1c" stroke="#1c1c1c" stroke-width="0.1" text-anchor="middle" font-weight="normal" font-family="Liberation Sans" >Cm1</text>
<polyline points="906.5,39.5 906.5,78.5" fill="none" stroke="#ff5a5a" stroke-width="1.15" stroke-linecap="square"/>
<polyline points="906.5,78.5 906.5,81.5" fill="none" stroke="#5252f4" stroke-width="1.15" stroke-linecap="square"/>
<polyline points="906,81 909.2,82.9167 902.8,86.75 909.2,90.5833 902.8,94.4167 909.2,98.25 902.8,102.083 906,104" fill="none" stroke="#5252f4" stroke-width="1.15" stroke-linecap="square"/>
<polyline points="906.5,104.5 906.5,110.5" fill="none" stroke="#5252f4" stroke-width="1.15" stroke-linecap="square"/>
<text x="911" y="97" font-size="6" fill="#1c1c1c" stroke="#1c1c1c" stroke-width="0.2" text-anchor="start" font-weight="normal" font-family="Liberation Sans" >Ro</text>
<polyline points="906.5,110.5 906.5,151.5" fill="none" stroke="#ff5a5a" stroke-width="1.15" stroke-linecap="square"/>
<polyline points="906.5,151.5 912.5,151.5" fill="none" stroke="#5252f4" stroke-width="1.15" stroke-linecap="square"/>
<rect x="912.5" y="147.5" width="18" height="9" rx="2.2" fill="#fff" stroke="#4a46b8" stroke-width="1.05"/>
<text x="921.5" y="153.9" font-size="5" fill="#1c1c1c" stroke="#1c1c1c" stroke-width="0.1" text-anchor="middle" font-weight="normal" font-family="Liberation Sans" >Cm10</text>
<polyline points="906.5,74.5 936.5,74.5 936.5,83.5" fill="none" stroke="#ff5a5a" stroke-width="1.15" stroke-linecap="square"/>
<polyline points="936.5,83.5 936.5,86.5 942.5,86.5" fill="none" stroke="#5252f4" stroke-width="1.15" stroke-linecap="square"/>
<polyline points="906.5,110.5 936.5,110.5 936.5,101.5" fill="none" stroke="#ff5a5a" stroke-width="1.15" stroke-linecap="square"/>
<polyline points="936.5,101.5 936.5,98.5 942.5,98.5" fill="none" stroke="#5252f4" stroke-width="1.15" stroke-linecap="square"/>
<polygon points="942.1,83.1 949.4,86.4 949.4,97.7 942.1,101.4" fill="#fff" stroke="#5252f4" stroke-width="1.15"/>
<polygon points="952,88.6 952,96.4 959.7,92.5" fill="#fff" stroke="#5252f4" stroke-width="1.15"/>
<polyline points="960.5,92.5 971.5,92.5" fill="none" stroke="#5252f4" stroke-width="1.15" stroke-linecap="square"/>
<polyline points="965.5,92.5 965.5,86.5" fill="none" stroke="#5252f4" stroke-width="1.15" stroke-linecap="square"/>
<circle cx="965" cy="80" r="5.8" fill="#fff" stroke="#5252f4" stroke-width="1.15"/>
<text x="965" y="82.5" font-size="6.8" fill="#1c1c1c" stroke="#1c1c1c" stroke-width="0.1" text-anchor="middle" font-weight="normal" font-family="Liberation Sans" >V</text>
<text x="965" y="72" font-size="5.5" fill="#1c1c1c" stroke="#1c1c1c" stroke-width="0.2" text-anchor="middle" font-weight="normal" font-family="Liberation Sans" >Vo</text>
<rect x="971.5" y="88.5" width="18" height="8" rx="2.2" fill="#fff" stroke="#4a46b8" stroke-width="1.05"/>
<text x="980.5" y="94.4" font-size="4.6" fill="#1c1c1c" stroke="#1c1c1c" stroke-width="0.1" text-anchor="middle" font-weight="normal" font-family="Liberation Sans" >Vout</text>
<rect x="329.5" y="272.5" width="18" height="8" rx="2.2" fill="#fff" stroke="#4a46b8" stroke-width="1.05"/>
<text x="338.5" y="278.4" font-size="4.6" fill="#1c1c1c" stroke="#1c1c1c" stroke-width="0.1" text-anchor="middle" font-weight="normal" font-family="Liberation Sans" >Vout</text>
<polyline points="347.5,276.5 350.5,276.5" fill="none" stroke="#5252f4" stroke-width="1.15" stroke-linecap="square"/>
<polyline points="350.5,276.5 356.5,276.5" fill="none" stroke="#5ee85e" stroke-width="1.15" stroke-linecap="square"/>
<polyline points="356.5,276.5 363.5,276.5" fill="none" stroke="#ff5a5a" stroke-width="1.15" stroke-linecap="square"/>
<polyline points="363.5,276.5 366.5,276.5" fill="none" stroke="#5252f4" stroke-width="1.15" stroke-linecap="square"/>
<polyline points="366,276.7 367.917,273.5 371.75,279.9 375.583,273.5 379.417,279.9 383.25,273.5 387.083,279.9 389,276.7" fill="none" stroke="#5252f4" stroke-width="1.15" stroke-linecap="square"/>
<polyline points="389.5,276.5 394.5,276.5" fill="none" stroke="#5252f4" stroke-width="1.15" stroke-linecap="square"/>
<text x="384" y="264" font-size="4.8" fill="#1c1c1c" stroke="#1c1c1c" stroke-width="0.1" text-anchor="middle" font-weight="normal" font-family="Liberation Sans" >Ri</text>
<text x="384" y="271" font-size="4.8" fill="#1c1c1c" stroke="#1c1c1c" stroke-width="0.1" text-anchor="middle" font-weight="normal" font-family="Liberation Sans" >Ri</text>
<polyline points="394.5,276.5 394.5,282.5" fill="none" stroke="#5252f4" stroke-width="1.15" stroke-linecap="square"/>
<polyline points="394.7,282.9 398.2,284.383 391.2,287.35 398.2,290.317 391.2,293.283 398.2,296.25 391.2,299.217 394.7,300.7" fill="none" stroke="#5252f4" stroke-width="1.15" stroke-linecap="square"/>
<polyline points="394.5,300.5 394.5,312.5" fill="none" stroke="#5252f4" stroke-width="1.15" stroke-linecap="square"/>
<polygon points="390.7,312 398.7,312 394.7,317.5" fill="#fff" stroke="#5252f4" stroke-width="1.15"/>
<text x="402" y="284" font-size="4.8" fill="#1c1c1c" stroke="#1c1c1c" stroke-width="0.1" text-anchor="start" font-weight="normal" font-family="Liberation Sans" >Rc</text>
<text x="402" y="291.5" font-size="4.8" fill="#1c1c1c" stroke="#1c1c1c" stroke-width="0.1" text-anchor="start" font-weight="normal" font-family="Liberation Sans" >Rc</text>
<polyline points="394.5,276.5 472.5,276.5" fill="none" stroke="#ff5a5a" stroke-width="1.15" stroke-linecap="square"/>
<polyline points="472.5,276.5 477.5,276.5" fill="none" stroke="#5252f4" stroke-width="1.15" stroke-linecap="square"/>
<polygon points="477.4,273.5 477.4,291.3 495.1,282.5" fill="#fff" stroke="#5252f4" stroke-width="1.15"/>
<polyline points="479.8,278.3 482.8,278.3" fill="none" stroke="#5252f4" stroke-width="1" stroke-linecap="square"/>
<polyline points="500.5,282.5 555.5,282.5" fill="none" stroke="#ff5a5a" stroke-width="1.15" stroke-linecap="square"/>
<polyline points="495.5,282.5 500.5,282.5" fill="none" stroke="#5252f4" stroke-width="1.15" stroke-linecap="square"/>
<polyline points="472.5,276.5 472.5,235.5 490.5,235.5" fill="none" stroke="#ff5a5a" stroke-width="1.15" stroke-linecap="square"/>
<polyline points="490.5,235.5 520.5,235.5" fill="none" stroke="#5252f4" stroke-width="1.15" stroke-linecap="square"/>
<polyline points="520.5,235.5 537.5,235.5 537.5,282.5" fill="none" stroke="#ff5a5a" stroke-width="1.15" stroke-linecap="square"/>
<polyline points="503.5,230.5 503.5,239.5" fill="none" stroke="#5252f4" stroke-width="1.4" stroke-linecap="square"/>
<polyline points="506.5,230.5 506.5,239.5" fill="none" stroke="#5252f4" stroke-width="1.4" stroke-linecap="square"/>
<text x="506" y="221" font-size="5" fill="#1c1c1c" stroke="#1c1c1c" stroke-width="0.1" text-anchor="middle" font-weight="normal" font-family="Liberation Sans" >CP</text>
<text x="506" y="229" font-size="5" fill="#1c1c1c" stroke="#1c1c1c" stroke-width="0.1" text-anchor="middle" font-weight="normal" font-family="Liberation Sans" >Cp</text>
<polyline points="472.5,253.5 480.5,253.5" fill="none" stroke="#ff5a5a" stroke-width="1.15" stroke-linecap="square"/>
<polyline points="480.5,253.5 482.5,253.5" fill="none" stroke="#5252f4" stroke-width="1.15" stroke-linecap="square"/>
<polyline points="482.5,253 484.167,249.8 487.5,256.2 490.833,249.8 494.167,256.2 497.5,249.8 500.833,256.2 502.5,253" fill="none" stroke="#5252f4" stroke-width="1.15" stroke-linecap="square"/>
<polyline points="502.5,253.5 537.5,253.5" fill="none" stroke="#5252f4" stroke-width="1.15" stroke-linecap="square"/>
<polyline points="520.5,248.5 520.5,257.5" fill="none" stroke="#5252f4" stroke-width="1.4" stroke-linecap="square"/>
<polyline points="523.5,248.5 523.5,257.5" fill="none" stroke="#5252f4" stroke-width="1.4" stroke-linecap="square"/>
<text x="496" y="246.5" font-size="5" fill="#1c1c1c" stroke="#1c1c1c" stroke-width="0.1" text-anchor="middle" font-weight="normal" font-family="Liberation Sans" >RF</text>
<text x="526" y="247" font-size="5" fill="#1c1c1c" stroke="#1c1c1c" stroke-width="0.1" text-anchor="middle" font-weight="normal" font-family="Liberation Sans" >Cz</text>
<text x="429.5" y="291.5" font-size="5" fill="#444" stroke="#444" stroke-width="0.1" text-anchor="middle" font-weight="normal" font-family="Liberation Sans" >VREF</text>
<circle cx="430.2" cy="297.4" r="2.7" fill="#fff" stroke="#5252f4" stroke-width="1.15"/>
<polyline points="430.5,300.5 430.5,306.5" fill="none" stroke="#5252f4" stroke-width="1.15" stroke-linecap="square"/>
<polyline points="430.5,306.5 442.5,306.5" fill="none" stroke="#ff5a5a" stroke-width="1.15" stroke-linecap="square"/>
<polyline points="442.5,306.5 446.5,306.5" fill="none" stroke="#5252f4" stroke-width="1.15" stroke-linecap="square"/>
<polyline points="446.8,306.8 448.442,303.6 451.725,310 455.008,303.6 458.292,310 461.575,303.6 464.858,310 466.5,306.8" fill="none" stroke="#5252f4" stroke-width="1.15" stroke-linecap="square"/>
<polyline points="466.5,306.5 472.5,306.5" fill="none" stroke="#5252f4" stroke-width="1.15" stroke-linecap="square"/>
<text x="428" y="318" font-size="4.8" fill="#444" stroke="#444" stroke-width="0.1" text-anchor="middle" font-weight="normal" font-family="Liberation Sans" >VV5400</text>
<text x="462" y="304" font-size="4.8" fill="#1c1c1c" stroke="#1c1c1c" stroke-width="0.1" text-anchor="middle" font-weight="normal" font-family="Liberation Sans" >2.37K</text>
<polyline points="472.5,288.5 477.5,288.5" fill="none" stroke="#5252f4" stroke-width="1.15" stroke-linecap="square"/>
<polyline points="472.5,288.5 472.5,306.5" fill="none" stroke="#ff5a5a" stroke-width="1.15" stroke-linecap="square"/>
<polyline points="472.5,306.5 472.5,313.5" fill="none" stroke="#5252f4" stroke-width="1.15" stroke-linecap="square"/>
<polyline points="472,313 475.5,314.417 468.5,317.25 475.5,320.083 468.5,322.917 475.5,325.75 468.5,328.583 472,330" fill="none" stroke="#5252f4" stroke-width="1.15" stroke-linecap="square"/>
<polyline points="472.5,330.5 472.5,341.5" fill="none" stroke="#5252f4" stroke-width="1.15" stroke-linecap="square"/>
<polygon points="468,341 476,341 472,346.5" fill="#fff" stroke="#5252f4" stroke-width="1.15"/>
<text x="477" y="321" font-size="4.8" fill="#1c1c1c" stroke="#1c1c1c" stroke-width="0.1" text-anchor="start" font-weight="normal" font-family="Liberation Sans" >2.37K</text>
<polygon points="555.7,280.2 562.5,284.2 562.5,294 555.7,298.2" fill="#fff" stroke="#5252f4" stroke-width="1.15"/>
<polyline points="555.5,295.5 549.5,295.5 549.5,300.5" fill="none" stroke="#5252f4" stroke-width="1.15" stroke-linecap="square"/>
<polygon points="545,300 553,300 549,305" fill="#fff" stroke="#5252f4" stroke-width="1.15"/>
<polygon points="565.5,285.2 565.5,292.8 573,289" fill="#fff" stroke="#5252f4" stroke-width="1.15"/>
<polyline points="573.5,289.5 580.5,289.5" fill="none" stroke="#5252f4" stroke-width="1.15" stroke-linecap="square"/>
<polyline points="580.5,289.5 585.5,289.5" fill="none" stroke="#5ee85e" stroke-width="1.15" stroke-linecap="square"/>
<polyline points="585.5,289.5 590.5,289.5" fill="none" stroke="#5252f4" stroke-width="1.15" stroke-linecap="square"/>
<polygon points="590.2,285.7 590.2,303.7 608.2,294.3" fill="#fff" stroke="#5252f4" stroke-width="1.15"/>
<polyline points="592.4,299.4 595.4,299.4" fill="none" stroke="#5252f4" stroke-width="1" stroke-linecap="square"/>
<polyline points="608.5,294.5 620.5,294.5" fill="none" stroke="#5252f4" stroke-width="1.15" stroke-linecap="square"/>
<polygon points="620.2,289.2 620.2,299.4 630.4,294.3" fill="#fff" stroke="#5252f4" stroke-width="1.15"/>
<circle cx="631.9" cy="294.3" r="1.4" fill="#fff" stroke="#5252f4" stroke-width="1.15"/>
<polyline points="633.5,294.5 638.5,294.5" fill="none" stroke="#5252f4" stroke-width="1.15" stroke-linecap="square"/>
<polyline points="638.5,294.5 650.5,294.5" fill="none" stroke="#5ee85e" stroke-width="1.15" stroke-linecap="square"/>
<polyline points="650.5,294.5 656.5,294.5" fill="none" stroke="#5252f4" stroke-width="1.15" stroke-linecap="square"/>
<rect x="656.5" y="277.5" width="18" height="23" fill="#fff" stroke="#5252f4" stroke-width="1.15"/>
<text x="659" y="284.5" font-size="4" fill="#444" stroke="#444" stroke-width="0.1" text-anchor="start" font-weight="normal" font-family="Liberation Sans" >S</text>
<text x="671" y="284.5" font-size="4" fill="#444" stroke="#444" stroke-width="0.1" text-anchor="end" font-weight="normal" font-family="Liberation Sans" >Q</text>
<text x="659" y="296" font-size="4" fill="#444" stroke="#444" stroke-width="0.1" text-anchor="start" font-weight="normal" font-family="Liberation Sans" >R</text>
<text x="671" y="296" font-size="4" fill="#444" stroke="#444" stroke-width="0.1" text-anchor="end" font-weight="normal" font-family="Liberation Sans" >Q</text>
<rect x="626.5" y="272.5" width="18" height="8" rx="2.2" fill="#fff" stroke="#4a46b8" stroke-width="1.05"/>
<text x="635.5" y="278.4" font-size="5.8" fill="#1c1c1c" stroke="#1c1c1c" stroke-width="0.2" text-anchor="middle" font-weight="normal" font-family="Liberation Sans" >CLK</text>
<polyline points="644.5,277.5 650.5,277.5 650.5,282.5 656.5,282.5" fill="none" stroke="#5ee85e" stroke-width="1.15" stroke-linecap="square"/>
<polyline points="674.5,282.5 680.5,282.5 680.5,276.5" fill="none" stroke="#5252f4" stroke-width="1.15" stroke-linecap="square"/>
<circle cx="680" cy="270.5" r="5.8" fill="#fff" stroke="#5252f4" stroke-width="1.15"/>
<text x="680" y="273" font-size="6.8" fill="#1c1c1c" stroke="#1c1c1c" stroke-width="0.1" text-anchor="middle" font-weight="normal" font-family="Liberation Sans" >V</text>
<text x="681" y="259" font-size="5.5" fill="#1c1c1c" stroke="#1c1c1c" stroke-width="0.2" text-anchor="middle" font-weight="normal" font-family="Liberation Sans" >PWM</text>
<polyline points="674.5,294.5 680.5,294.5 680.5,396.5 745.5,396.5" fill="none" stroke="#5ee85e" stroke-width="1.15" stroke-linecap="square"/>
<polyline points="745.5,396.5 751.5,396.5" fill="none" stroke="#5252f4" stroke-width="1.15" stroke-linecap="square"/>
<polyline points="585.5,300.5 590.5,300.5" fill="none" stroke="#5252f4" stroke-width="1.15" stroke-linecap="square"/>
<polyline points="585.5,300.5 585.5,396.5 572.5,396.5" fill="none" stroke="#5ee85e" stroke-width="1.15" stroke-linecap="square"/>
<polyline points="572.5,396.5 566.5,396.5" fill="none" stroke="#5252f4" stroke-width="1.15" stroke-linecap="square"/>
<circle cx="638" cy="330.5" r="5.8" fill="#fff" stroke="#5252f4" stroke-width="1.15"/>
<text x="638" y="333" font-size="6.8" fill="#1c1c1c" stroke="#1c1c1c" stroke-width="0.1" text-anchor="middle" font-weight="normal" font-family="Liberation Sans" >V</text>
<text x="647" y="333" font-size="7" fill="#1c1c1c" stroke="#1c1c1c" stroke-width="0.1" text-anchor="start" font-weight="normal" font-family="Liberation Sans" >CLK</text>
<rect x="614.5" y="339.5" width="18" height="7" rx="2.2" fill="#fff" stroke="#4a46b8" stroke-width="1.05"/>
<text x="623.5" y="344.9" font-size="5.8" fill="#1c1c1c" stroke="#1c1c1c" stroke-width="0.2" text-anchor="middle" font-weight="normal" font-family="Liberation Sans" >CLK</text>
<polyline points="632.5,342.5 638.5,342.5" fill="none" stroke="#5252f4" stroke-width="1.15" stroke-linecap="square"/>
<polyline points="638.5,336.5 638.5,350.5" fill="none" stroke="#5252f4" stroke-width="1.15" stroke-linecap="square"/>
<circle cx="638" cy="356.5" r="5.8" fill="#fff" stroke="#5252f4" stroke-width="1.15"/>
<path d="M634.6,353.5 h1.7 v6 h3.4 v-6 h1.7" fill="none" stroke="#4b4bf2" stroke-width="0.9"/>
<text x="644" y="357.5" font-size="5" fill="#1c1c1c" stroke="#1c1c1c" stroke-width="0.1" text-anchor="start" font-weight="normal" font-family="Liberation Sans" >fs</text>
<polyline points="638.5,362.5 638.5,378.5" fill="none" stroke="#5252f4" stroke-width="1.15" stroke-linecap="square"/>
<polygon points="633.7,378 642.3,378 638,382.6" fill="#fff" stroke="#5252f4" stroke-width="1.15"/>
<rect x="751.5" y="289.5" width="18" height="23" fill="#fff" stroke="#5252f4" stroke-width="1.15"/>
<text x="754" y="296.2" font-size="4" fill="#444" stroke="#444" stroke-width="0.1" text-anchor="start" font-weight="normal" font-family="Liberation Sans" >J</text>
<text x="767" y="296.2" font-size="4" fill="#444" stroke="#444" stroke-width="0.1" text-anchor="end" font-weight="normal" font-family="Liberation Sans" >Q</text>
<text x="754" y="308.7" font-size="4" fill="#444" stroke="#444" stroke-width="0.1" text-anchor="start" font-weight="normal" font-family="Liberation Sans" >K</text>
<text x="767" y="308.7" font-size="4" fill="#444" stroke="#444" stroke-width="0.1" text-anchor="end" font-weight="normal" font-family="Liberation Sans" >Q</text>
<polyline points="751.5,298.5 753.5,300.5 751.5,302.5" fill="none" stroke="#5252f4" stroke-width="0.9" stroke-linecap="square"/>
<text x="732.8" y="277.8" font-size="5" fill="#1c1c1c" stroke="#1c1c1c" stroke-width="0.1" text-anchor="middle" font-weight="normal" font-family="Liberation Sans" >1</text>
<circle cx="732.8" cy="285.4" r="2.5" fill="#fff" stroke="#5252f4" stroke-width="1.15"/>
<polyline points="732.5,288.5 732.5,306.5 745.5,306.5" fill="none" stroke="#5ee85e" stroke-width="1.15" stroke-linecap="square"/>
<polyline points="745.5,306.5 751.5,306.5" fill="none" stroke="#5252f4" stroke-width="1.15" stroke-linecap="square"/>
<polyline points="732.5,294.5 745.5,294.5" fill="none" stroke="#5ee85e" stroke-width="1.15" stroke-linecap="square"/>
<polyline points="745.5,294.5 751.5,294.5" fill="none" stroke="#5252f4" stroke-width="1.15" stroke-linecap="square"/>
<polyline points="769.5,294.5 776.5,294.5" fill="none" stroke="#5252f4" stroke-width="1.15" stroke-linecap="square"/>
<polyline points="776.5,294.5 864.5,294.5" fill="none" stroke="#5ee85e" stroke-width="1.15" stroke-linecap="square"/>
<polyline points="769.5,306.5 773.5,306.5" fill="none" stroke="#5252f4" stroke-width="1.15" stroke-linecap="square"/>
<circle cx="775.2" cy="306.7" r="1.3" fill="#fff" stroke="#5252f4" stroke-width="1.15"/>
<polyline points="822.5,264.5 822.5,330.5" fill="none" stroke="#5ee85e" stroke-width="1.15" stroke-linecap="square"/>
<polyline points="822.5,264.5 826.5,264.5" fill="none" stroke="#5ee85e" stroke-width="1.15" stroke-linecap="square"/>
<polyline points="826.5,264.5 828.5,264.5" fill="none" stroke="#5252f4" stroke-width="1.15" stroke-linecap="square"/>
<polyline points="822.5,276.5 826.5,276.5" fill="none" stroke="#5ee85e" stroke-width="1.15" stroke-linecap="square"/>
<polyline points="826.5,276.5 828.5,276.5" fill="none" stroke="#5252f4" stroke-width="1.15" stroke-linecap="square"/>
<rect x="828.5" y="259.5" width="18" height="22" fill="#fff" stroke="#5252f4" stroke-width="1.15"/>
<text x="836.3" y="253.5" font-size="5" fill="#1c1c1c" stroke="#1c1c1c" stroke-width="0.1" text-anchor="middle" font-weight="normal" font-family="Liberation Sans" >425n</text>
<path d="M832,267.5 h1.5 v-5 h1.5" fill="none" stroke="#5252f4" stroke-width="0.9"/>
<path d="M832,274 h1.5 v5 h1.5" fill="none" stroke="#5252f4" stroke-width="0.9"/>
<text x="843" y="267" font-size="4" fill="#444" stroke="#444" stroke-width="0.1" text-anchor="middle" font-weight="normal" font-family="Liberation Sans" >Q</text>
<text x="843" y="279" font-size="4" fill="#444" stroke="#444" stroke-width="0.1" text-anchor="middle" font-weight="normal" font-family="Liberation Sans" >Q</text>
<polyline points="846.5,264.5 850.5,264.5" fill="none" stroke="#5252f4" stroke-width="1.15" stroke-linecap="square"/>
<circle cx="852.5" cy="264.9" r="1.3" fill="#fff" stroke="#5252f4" stroke-width="1.15"/>
<polyline points="846.5,276.5 850.5,276.5" fill="none" stroke="#5252f4" stroke-width="1.15" stroke-linecap="square"/>
<polyline points="850.5,276.5 852.5,276.5 852.5,318.5 864.5,318.5" fill="none" stroke="#5ee85e" stroke-width="1.15" stroke-linecap="square"/>
<polyline points="852.5,307.5 864.5,307.5" fill="none" stroke="#5ee85e" stroke-width="1.15" stroke-linecap="square"/>
<path d="M864.3,292.5 h12 a8,8 0 0 1 0,16 h-12 z" fill="#fff" stroke="#5252f4" stroke-width="1.15"/>
<path d="M864.3,316.4 h12 a8,8.3 0 0 1 0,16.6 h-12 z" fill="#fff" stroke="#5252f4" stroke-width="1.15"/>
<polyline points="859.5,294.5 864.5,294.5" fill="none" stroke="#5252f4" stroke-width="1.15" stroke-linecap="square"/>
<polyline points="859.5,307.5 864.5,307.5" fill="none" stroke="#5252f4" stroke-width="1.15" stroke-linecap="square"/>
<polyline points="859.5,318.5 864.5,318.5" fill="none" stroke="#5252f4" stroke-width="1.15" stroke-linecap="square"/>
<polyline points="859.5,330.5 864.5,330.5" fill="none" stroke="#5252f4" stroke-width="1.15" stroke-linecap="square"/>
<polyline points="822.5,330.5 828.5,330.5" fill="none" stroke="#5ee85e" stroke-width="1.15" stroke-linecap="square"/>
<polygon points="828.4,325.3 828.4,335.5 838.6,330.4" fill="#fff" stroke="#5252f4" stroke-width="1.15"/>
<circle cx="840.1" cy="330.4" r="1.4" fill="#fff" stroke="#5252f4" stroke-width="1.15"/>
<polyline points="842.5,330.5 864.5,330.5" fill="none" stroke="#5ee85e" stroke-width="1.15" stroke-linecap="square"/>
<polyline points="884.5,300.5 895.5,300.5" fill="none" stroke="#5ee85e" stroke-width="1.15" stroke-linecap="square"/>
<polyline points="895.5,300.5 900.5,300.5" fill="none" stroke="#5252f4" stroke-width="1.15" stroke-linecap="square"/>
<polyline points="884.5,324.5 895.5,324.5" fill="none" stroke="#5ee85e" stroke-width="1.15" stroke-linecap="square"/>
<polyline points="895.5,324.5 900.5,324.5" fill="none" stroke="#5252f4" stroke-width="1.15" stroke-linecap="square"/>
<rect x="900.5" y="296.5" width="18" height="9" rx="2.2" fill="#fff" stroke="#4a46b8" stroke-width="1.05"/>
<text x="902.3" y="302.9" font-size="5.5" fill="#1c1c1c" stroke="#1c1c1c" stroke-width="0.2" text-anchor="start" font-weight="normal" font-family="Liberation Sans" >QA</text>
<rect x="900.5" y="320.5" width="18" height="9" rx="2.2" fill="#fff" stroke="#4a46b8" stroke-width="1.05"/>
<text x="902.3" y="326.9" font-size="5.5" fill="#1c1c1c" stroke="#1c1c1c" stroke-width="0.2" text-anchor="start" font-weight="normal" font-family="Liberation Sans" >QB</text>
<rect x="751.5" y="384.5" width="18" height="23" fill="#fff" stroke="#5252f4" stroke-width="1.15"/>
<text x="754" y="391.7" font-size="4" fill="#444" stroke="#444" stroke-width="0.1" text-anchor="start" font-weight="normal" font-family="Liberation Sans" >J</text>
<text x="767" y="391.7" font-size="4" fill="#444" stroke="#444" stroke-width="0.1" text-anchor="end" font-weight="normal" font-family="Liberation Sans" >Q</text>
<text x="754" y="404.2" font-size="4" fill="#444" stroke="#444" stroke-width="0.1" text-anchor="start" font-weight="normal" font-family="Liberation Sans" >K</text>
<text x="767" y="404.2" font-size="4" fill="#444" stroke="#444" stroke-width="0.1" text-anchor="end" font-weight="normal" font-family="Liberation Sans" >Q</text>
<polyline points="751.5,394.5 753.5,396.5 751.5,398.5" fill="none" stroke="#5252f4" stroke-width="0.9" stroke-linecap="square"/>
<text x="732.8" y="373.3" font-size="5" fill="#1c1c1c" stroke="#1c1c1c" stroke-width="0.1" text-anchor="middle" font-weight="normal" font-family="Liberation Sans" >1</text>
<circle cx="732.8" cy="380.9" r="2.5" fill="#fff" stroke="#5252f4" stroke-width="1.15"/>
<polyline points="732.5,383.5 732.5,402.5 745.5,402.5" fill="none" stroke="#5ee85e" stroke-width="1.15" stroke-linecap="square"/>
<polyline points="745.5,402.5 751.5,402.5" fill="none" stroke="#5252f4" stroke-width="1.15" stroke-linecap="square"/>
<polyline points="732.5,389.5 745.5,389.5" fill="none" stroke="#5ee85e" stroke-width="1.15" stroke-linecap="square"/>
<polyline points="745.5,389.5 751.5,389.5" fill="none" stroke="#5252f4" stroke-width="1.15" stroke-linecap="square"/>
<polyline points="769.5,389.5 776.5,389.5" fill="none" stroke="#5252f4" stroke-width="1.15" stroke-linecap="square"/>
<polyline points="776.5,389.5 864.5,389.5" fill="none" stroke="#5ee85e" stroke-width="1.15" stroke-linecap="square"/>
<polyline points="769.5,402.5 773.5,402.5" fill="none" stroke="#5252f4" stroke-width="1.15" stroke-linecap="square"/>
<circle cx="775.2" cy="402.2" r="1.3" fill="#fff" stroke="#5252f4" stroke-width="1.15"/>
<polyline points="822.5,360.5 822.5,425.5" fill="none" stroke="#5ee85e" stroke-width="1.15" stroke-linecap="square"/>
<polyline points="822.5,360.5 826.5,360.5" fill="none" stroke="#5ee85e" stroke-width="1.15" stroke-linecap="square"/>
<polyline points="826.5,360.5 828.5,360.5" fill="none" stroke="#5252f4" stroke-width="1.15" stroke-linecap="square"/>
<polyline points="822.5,372.5 826.5,372.5" fill="none" stroke="#5ee85e" stroke-width="1.15" stroke-linecap="square"/>
<polyline points="826.5,372.5 828.5,372.5" fill="none" stroke="#5252f4" stroke-width="1.15" stroke-linecap="square"/>
<rect x="828.5" y="354.5" width="18" height="23" fill="#fff" stroke="#5252f4" stroke-width="1.15"/>
<text x="836.3" y="349" font-size="5" fill="#1c1c1c" stroke="#1c1c1c" stroke-width="0.1" text-anchor="middle" font-weight="normal" font-family="Liberation Sans" >425n</text>
<path d="M832,363 h1.5 v-5 h1.5" fill="none" stroke="#5252f4" stroke-width="0.9"/>
<path d="M832,369.5 h1.5 v5 h1.5" fill="none" stroke="#5252f4" stroke-width="0.9"/>
<text x="843" y="362.5" font-size="4" fill="#444" stroke="#444" stroke-width="0.1" text-anchor="middle" font-weight="normal" font-family="Liberation Sans" >Q</text>
<text x="843" y="374.5" font-size="4" fill="#444" stroke="#444" stroke-width="0.1" text-anchor="middle" font-weight="normal" font-family="Liberation Sans" >Q</text>
<polyline points="846.5,360.5 850.5,360.5" fill="none" stroke="#5252f4" stroke-width="1.15" stroke-linecap="square"/>
<circle cx="852.5" cy="360.4" r="1.3" fill="#fff" stroke="#5252f4" stroke-width="1.15"/>
<polyline points="846.5,372.5 850.5,372.5" fill="none" stroke="#5252f4" stroke-width="1.15" stroke-linecap="square"/>
<polyline points="850.5,372.5 852.5,372.5 852.5,413.5 864.5,413.5" fill="none" stroke="#5ee85e" stroke-width="1.15" stroke-linecap="square"/>
<polyline points="852.5,402.5 864.5,402.5" fill="none" stroke="#5ee85e" stroke-width="1.15" stroke-linecap="square"/>
<path d="M864.3,388 h12 a8,8 0 0 1 0,16 h-12 z" fill="#fff" stroke="#5252f4" stroke-width="1.15"/>
<path d="M864.3,411.9 h12 a8,8.3 0 0 1 0,16.6 h-12 z" fill="#fff" stroke="#5252f4" stroke-width="1.15"/>
<polyline points="859.5,389.5 864.5,389.5" fill="none" stroke="#5252f4" stroke-width="1.15" stroke-linecap="square"/>
<polyline points="859.5,402.5 864.5,402.5" fill="none" stroke="#5252f4" stroke-width="1.15" stroke-linecap="square"/>
<polyline points="859.5,413.5 864.5,413.5" fill="none" stroke="#5252f4" stroke-width="1.15" stroke-linecap="square"/>
<polyline points="859.5,425.5 864.5,425.5" fill="none" stroke="#5252f4" stroke-width="1.15" stroke-linecap="square"/>
<polyline points="822.5,425.5 828.5,425.5" fill="none" stroke="#5ee85e" stroke-width="1.15" stroke-linecap="square"/>
<polygon points="828.4,420.8 828.4,431 838.6,425.9" fill="#fff" stroke="#5252f4" stroke-width="1.15"/>
<circle cx="840.1" cy="425.9" r="1.4" fill="#fff" stroke="#5252f4" stroke-width="1.15"/>
<polyline points="842.5,425.5 864.5,425.5" fill="none" stroke="#5ee85e" stroke-width="1.15" stroke-linecap="square"/>
<polyline points="884.5,396.5 895.5,396.5" fill="none" stroke="#5ee85e" stroke-width="1.15" stroke-linecap="square"/>
<polyline points="895.5,396.5 900.5,396.5" fill="none" stroke="#5252f4" stroke-width="1.15" stroke-linecap="square"/>
<polyline points="884.5,419.5 895.5,419.5" fill="none" stroke="#5ee85e" stroke-width="1.15" stroke-linecap="square"/>
<polyline points="895.5,419.5 900.5,419.5" fill="none" stroke="#5252f4" stroke-width="1.15" stroke-linecap="square"/>
<rect x="900.5" y="391.5" width="18" height="9" rx="2.2" fill="#fff" stroke="#4a46b8" stroke-width="1.05"/>
<text x="902.3" y="397.9" font-size="5.5" fill="#1c1c1c" stroke="#1c1c1c" stroke-width="0.2" text-anchor="start" font-weight="normal" font-family="Liberation Sans" >QC</text>
<rect x="900.5" y="415.5" width="18" height="9" rx="2.2" fill="#fff" stroke="#4a46b8" stroke-width="1.05"/>
<text x="902.3" y="421.9" font-size="5.5" fill="#1c1c1c" stroke="#1c1c1c" stroke-width="0.2" text-anchor="start" font-weight="normal" font-family="Liberation Sans" >QD</text>
<rect x="703.5" y="296.5" width="18" height="8" rx="2.2" fill="#fff" stroke="#4a46b8" stroke-width="1.05"/>
<text x="712.5" y="302.4" font-size="5.8" fill="#1c1c1c" stroke="#1c1c1c" stroke-width="0.2" text-anchor="middle" font-weight="normal" font-family="Liberation Sans" >CLK</text>
<polyline points="721.5,300.5 728.5,300.5" fill="none" stroke="#5252f4" stroke-width="1.15" stroke-linecap="square"/>
<polyline points="728.5,300.5 745.5,300.5" fill="none" stroke="#5ee85e" stroke-width="1.15" stroke-linecap="square"/>
<polyline points="745.5,300.5 751.5,300.5" fill="none" stroke="#5252f4" stroke-width="1.15" stroke-linecap="square"/>
<rect x="370.5" y="385.5" width="18" height="9" rx="2.2" fill="#fff" stroke="#4a46b8" stroke-width="1.05"/>
<text x="386" y="391.9" font-size="5.2" fill="#1c1c1c" stroke="#1c1c1c" stroke-width="0.1" text-anchor="end" font-weight="normal" font-family="Liberation Sans" >CS</text>
<polyline points="388.5,389.5 424.5,389.5" fill="none" stroke="#5252f4" stroke-width="1.15" stroke-linecap="square"/>
<polygon points="406.5,386.25 406.5,393.25 413,389.75" fill="#fff" stroke="#5252f4" stroke-width="1.15"/>
<polyline points="413.5,386.5 413.5,393.5" fill="none" stroke="#5252f4" stroke-width="1.15" stroke-linecap="square"/>
<polyline points="424.5,389.5 451.5,389.5" fill="none" stroke="#ff5a5a" stroke-width="1.15" stroke-linecap="square"/>
<polyline points="451,389.75 452.667,386.55 456,392.95 459.333,386.55 462.667,392.95 466,386.55 469.333,392.95 471,389.75" fill="none" stroke="#5252f4" stroke-width="1.15" stroke-linecap="square"/>
<polyline points="471.5,389.5 477.5,389.5" fill="none" stroke="#5252f4" stroke-width="1.15" stroke-linecap="square"/>
<polyline points="477.5,389.5 496.5,389.5" fill="none" stroke="#ff5a5a" stroke-width="1.15" stroke-linecap="square"/>
<polyline points="424.5,389.5 424.5,395.5" fill="none" stroke="#5252f4" stroke-width="1.15" stroke-linecap="square"/>
<polyline points="424.5,395 428,396.5 421,399.5 428,402.5 421,405.5 428,408.5 421,411.5 424.5,413" fill="none" stroke="#5252f4" stroke-width="1.15" stroke-linecap="square"/>
<polyline points="424.5,413.5 424.5,425.5" fill="none" stroke="#5252f4" stroke-width="1.15" stroke-linecap="square"/>
<polygon points="420.5,425 428.5,425 424.5,429.8" fill="#fff" stroke="#5252f4" stroke-width="1.15"/>
<polyline points="477.5,389.5 477.5,403.5" fill="none" stroke="#5252f4" stroke-width="1.15" stroke-linecap="square"/>
<polyline points="472.5,403.5 482.5,403.5" fill="none" stroke="#5252f4" stroke-width="1.4" stroke-linecap="square"/>
<polyline points="472.5,406.5 482.5,406.5" fill="none" stroke="#5252f4" stroke-width="1.4" stroke-linecap="square"/>
<polyline points="477.5,406.5 477.5,425.5" fill="none" stroke="#5252f4" stroke-width="1.15" stroke-linecap="square"/>
<polygon points="473.5,425 481.5,425 477.5,429.8" fill="#fff" stroke="#5252f4" stroke-width="1.15"/>
<polygon points="501,386.5 509,390.5 509,400.5 501,404.5" fill="#fff" stroke="#5252f4" stroke-width="1.15"/>
<polyline points="496.5,389.5 501.5,389.5" fill="none" stroke="#5252f4" stroke-width="1.15" stroke-linecap="square"/>
<polyline points="501.5,401.5 495.5,401.5 495.5,407.5" fill="none" stroke="#5252f4" stroke-width="1.15" stroke-linecap="square"/>
<polygon points="491.8,407.5 499.8,407.5 495.8,412.3" fill="#fff" stroke="#5252f4" stroke-width="1.15"/>
<polygon points="512.5,392.2 512.5,399.8 520,396" fill="#fff" stroke="#5252f4" stroke-width="1.15"/>
<polyline points="520.5,396.5 531.5,396.5" fill="none" stroke="#5252f4" stroke-width="1.15" stroke-linecap="square"/>
<polyline points="531.5,396.5 549.5,396.5" fill="none" stroke="#5ee85e" stroke-width="1.15" stroke-linecap="square"/>
<polyline points="549.5,396.5 555.5,396.5" fill="none" stroke="#5252f4" stroke-width="1.15" stroke-linecap="square"/>
<polyline points="531.5,396.5 531.5,390.5" fill="none" stroke="#5252f4" stroke-width="1.15" stroke-linecap="square"/>
<circle cx="531" cy="384" r="5.8" fill="#fff" stroke="#5252f4" stroke-width="1.15"/>
<text x="531" y="386.5" font-size="6.8" fill="#1c1c1c" stroke="#1c1c1c" stroke-width="0.1" text-anchor="middle" font-weight="normal" font-family="Liberation Sans" >V</text>
<text x="531" y="375" font-size="4.8" fill="#1c1c1c" stroke="#1c1c1c" stroke-width="0.1" text-anchor="middle" font-weight="normal" font-family="Liberation Sans" >CS_LF</text>
<circle cx="561" cy="396" r="5.8" fill="#fff" stroke="#5252f4" stroke-width="1.15"/>
<text x="561" y="398.5" font-size="7" fill="#1c1c1c" stroke="#1c1c1c" stroke-width="0.1" text-anchor="middle" font-weight="normal" font-family="Liberation Sans" >Σ</text>
<polyline points="549.7,391 552.9,391" fill="none" stroke="#5252f4" stroke-width="0.9" stroke-linecap="square"/>
<polyline points="551.3,389.4 551.3,392.6" fill="none" stroke="#5252f4" stroke-width="0.9" stroke-linecap="square"/>
<polyline points="554.9,405.5 558.1,405.5" fill="none" stroke="#5252f4" stroke-width="0.9" stroke-linecap="square"/>
<polyline points="556.5,403.9 556.5,407.1" fill="none" stroke="#5252f4" stroke-width="0.9" stroke-linecap="square"/>
<circle cx="531" cy="408" r="5.8" fill="#fff" stroke="#5252f4" stroke-width="1.15"/>
<path d="M529,405.6 L533.4,408 L529,410.4 M528.4,405.7 v4.6" fill="none" stroke="#2a2a3a" stroke-width="0.95"/>
<polyline points="536.5,408.5 543.5,408.5" fill="none" stroke="#5252f4" stroke-width="1.15" stroke-linecap="square"/>
<polyline points="543.5,408.5 561.5,408.5" fill="none" stroke="#5ee85e" stroke-width="1.15" stroke-linecap="square"/>
<polyline points="561.5,401.5 561.5,416.5" fill="none" stroke="#5252f4" stroke-width="1.15" stroke-linecap="square"/>
<circle cx="561" cy="422" r="5.8" fill="#fff" stroke="#5252f4" stroke-width="1.15"/>
<path d="M557.2,422.5 C558.4,418.6 559.6,418.6 561,422 C562.4,425.4 563.6,425.4 564.8,421.5" fill="none" stroke="#333" stroke-width="0.9"/>
<polyline points="561.5,427.5 561.5,443.5" fill="none" stroke="#5252f4" stroke-width="1.15" stroke-linecap="square"/>
<polygon points="557,443 565,443 561,447.8" fill="#fff" stroke="#5252f4" stroke-width="1.15"/>
<circle cx="173.5" cy="199.5" r="1.4" fill="#5252f4"/>
<circle cx="173.5" cy="223.5" r="1.4" fill="#5252f4"/>
<circle cx="49.5" cy="378.5" r="1.45" fill="#1e1e1e"/>
<circle cx="49.5" cy="390.5" r="1.45" fill="#1e1e1e"/>
<circle cx="49.5" cy="402.5" r="1.45" fill="#1e1e1e"/>
<circle cx="49.5" cy="414.5" r="1.45" fill="#1e1e1e"/>
<circle cx="138.5" cy="295.5" r="1.45" fill="#1e1e1e"/>
<circle cx="156.5" cy="312.5" r="1.6" fill="#5252f4"/>
<circle cx="197.5" cy="312.5" r="1.6" fill="#5252f4"/>
<circle cx="257.5" cy="312.5" r="1.6" fill="#5252f4"/>
<circle cx="299.5" cy="312.5" r="1.6" fill="#5252f4"/>
<circle cx="317.5" cy="296.5" r="0.9" fill="#666"/>
<circle cx="305.5" cy="32.5" r="1.45" fill="#1e1e1e"/>
<circle cx="305.5" cy="68.5" r="1.45" fill="#1e1e1e"/>
<circle cx="305.5" cy="98.5" r="1.45" fill="#1e1e1e"/>
<circle cx="305.5" cy="140.5" r="1.45" fill="#1e1e1e"/>
<circle cx="332.5" cy="73.5" r="0.8" fill="#5252f4"/>
<circle cx="319.5" cy="29.5" r="0.8" fill="#5252f4"/>
<circle cx="342.5" cy="29.5" r="0.8" fill="#5252f4"/>
<circle cx="352.5" cy="33.5" r="2.5" fill="#5252f4"/>
<circle cx="352.5" cy="45.5" r="1.45" fill="#1e1e1e"/>
<circle cx="412.5" cy="32.5" r="1.45" fill="#1e1e1e"/>
<circle cx="430.5" cy="32.5" r="1.45" fill="#1e1e1e"/>
<circle cx="433.5" cy="36.5" r="0.8" fill="#5252f4"/>
<circle cx="412.5" cy="62.5" r="1.45" fill="#1e1e1e"/>
<circle cx="412.5" cy="87.5" r="1.45" fill="#1e1e1e"/>
<circle cx="412.5" cy="110.5" r="1.45" fill="#1e1e1e"/>
<circle cx="433.5" cy="114.5" r="0.8" fill="#5252f4"/>
<circle cx="406.5" cy="140.5" r="1.45" fill="#1e1e1e"/>
<circle cx="412.5" cy="140.5" r="1.45" fill="#1e1e1e"/>
<circle cx="430.5" cy="140.5" r="1.45" fill="#1e1e1e"/>
<circle cx="483.5" cy="32.5" r="1.45" fill="#1e1e1e"/>
<circle cx="502.5" cy="32.5" r="1.45" fill="#1e1e1e"/>
<circle cx="505.5" cy="36.5" r="0.8" fill="#5252f4"/>
<circle cx="483.5" cy="62.5" r="1.45" fill="#1e1e1e"/>
<circle cx="483.5" cy="98.5" r="1.45" fill="#1e1e1e"/>
<circle cx="483.5" cy="110.5" r="1.45" fill="#1e1e1e"/>
<circle cx="505.5" cy="114.5" r="0.8" fill="#5252f4"/>
<circle cx="477.5" cy="140.5" r="1.45" fill="#1e1e1e"/>
<circle cx="483.5" cy="140.5" r="1.45" fill="#1e1e1e"/>
<circle cx="502.5" cy="140.5" r="1.45" fill="#1e1e1e"/>
<circle cx="585.5" cy="68.5" r="1.45" fill="#1e1e1e"/>
<circle cx="555.5" cy="32.5" r="1.45" fill="#1e1e1e"/>
<circle cx="555.5" cy="140.5" r="1.45" fill="#1e1e1e"/>
<circle cx="540.5" cy="65.5" r="0.8" fill="#5252f4"/>
<circle cx="519.5" cy="68.5" r="1.45" fill="#1e1e1e"/>
<circle cx="519.5" cy="98.5" r="1.45" fill="#1e1e1e"/>
<circle cx="522.5" cy="71.5" r="0.8" fill="#5252f4"/>
<circle cx="602.5" cy="68.5" r="1.45" fill="#1e1e1e"/>
<circle cx="602.5" cy="98.5" r="1.45" fill="#1e1e1e"/>
<circle cx="622.5" cy="64.5" r="0.9" fill="#5252f4"/>
<circle cx="636.5" cy="64.5" r="0.9" fill="#5252f4"/>
<circle cx="680.5" cy="68.5" r="1.45" fill="#1e1e1e"/>
<circle cx="739.5" cy="39.5" r="1.45" fill="#1e1e1e"/>
<circle cx="739.5" cy="116.5" r="1.45" fill="#1e1e1e"/>
<circle cx="739.5" cy="151.5" r="1.45" fill="#1e1e1e"/>
<circle cx="775.5" cy="39.5" r="1.45" fill="#1e1e1e"/>
<circle cx="811.5" cy="39.5" r="1.45" fill="#1e1e1e"/>
<circle cx="811.5" cy="151.5" r="1.45" fill="#1e1e1e"/>
<circle cx="806.5" cy="89.5" r="0.8" fill="#5252f4"/>
<circle cx="831.5" cy="35.5" r="0.8" fill="#5252f4"/>
<circle cx="870.5" cy="39.5" r="1.45" fill="#1e1e1e"/>
<circle cx="870.5" cy="151.5" r="1.45" fill="#1e1e1e"/>
<circle cx="875.5" cy="84.5" r="0.8" fill="#5252f4"/>
<circle cx="906.5" cy="39.5" r="1.45" fill="#1e1e1e"/>
<circle cx="906.5" cy="74.5" r="1.45" fill="#1e1e1e"/>
<circle cx="903.5" cy="82.5" r="0.8" fill="#5252f4"/>
<circle cx="906.5" cy="110.5" r="1.45" fill="#1e1e1e"/>
<circle cx="906.5" cy="151.5" r="1.45" fill="#1e1e1e"/>
<circle cx="939.5" cy="82.5" r="0.8" fill="#5252f4"/>
<circle cx="965.5" cy="92.5" r="1.45" fill="#1e1e1e"/>
<circle cx="367.5" cy="281.5" r="0.8" fill="#5252f4"/>
<circle cx="394.5" cy="276.5" r="1.45" fill="#1e1e1e"/>
<circle cx="398.5" cy="279.5" r="0.8" fill="#5252f4"/>
<circle cx="472.5" cy="276.5" r="1.45" fill="#1e1e1e"/>
<circle cx="481.5" cy="287.5" r="1.1" fill="#5252f4"/>
<circle cx="537.5" cy="282.5" r="1.45" fill="#1e1e1e"/>
<circle cx="492.5" cy="231.5" r="0.8" fill="#5252f4"/>
<circle cx="472.5" cy="253.5" r="1.45" fill="#1e1e1e"/>
<circle cx="537.5" cy="253.5" r="1.45" fill="#1e1e1e"/>
<circle cx="482.5" cy="249.5" r="0.8" fill="#5252f4"/>
<circle cx="510.5" cy="249.5" r="0.8" fill="#5252f4"/>
<circle cx="445.5" cy="303.5" r="0.8" fill="#5252f4"/>
<circle cx="472.5" cy="306.5" r="1.45" fill="#1e1e1e"/>
<circle cx="475.5" cy="309.5" r="0.8" fill="#5252f4"/>
<circle cx="551.5" cy="278.5" r="0.8" fill="#5252f4"/>
<circle cx="593.5" cy="290.5" r="1.1" fill="#5252f4"/>
<circle cx="638.5" cy="342.5" r="1.45" fill="#1e1e1e"/>
<circle cx="636.5" cy="349.5" r="0.8" fill="#5252f4"/>
<circle cx="732.5" cy="294.5" r="1.45" fill="#1e1e1e"/>
<circle cx="822.5" cy="294.5" r="1.45" fill="#1e1e1e"/>
<circle cx="822.5" cy="276.5" r="1.45" fill="#1e1e1e"/>
<circle cx="828.5" cy="264.5" r="1.1" fill="#5252f4"/>
<circle cx="828.5" cy="276.5" r="1.1" fill="#5252f4"/>
<circle cx="852.5" cy="307.5" r="1.45" fill="#1e1e1e"/>
<circle cx="732.5" cy="389.5" r="1.45" fill="#1e1e1e"/>
<circle cx="822.5" cy="389.5" r="1.45" fill="#1e1e1e"/>
<circle cx="822.5" cy="372.5" r="1.45" fill="#1e1e1e"/>
<circle cx="828.5" cy="360.5" r="1.1" fill="#5252f4"/>
<circle cx="828.5" cy="372.5" r="1.1" fill="#5252f4"/>
<circle cx="852.5" cy="402.5" r="1.45" fill="#1e1e1e"/>
<circle cx="424.5" cy="389.5" r="1.45" fill="#1e1e1e"/>
<circle cx="477.5" cy="389.5" r="1.45" fill="#1e1e1e"/>
<circle cx="452.5" cy="384.5" r="0.8" fill="#5252f4"/>
<circle cx="481.5" cy="394.5" r="0.8" fill="#5252f4"/>
<circle cx="428.5" cy="394.5" r="0.8" fill="#5252f4"/>
<circle cx="497.5" cy="385.5" r="0.8" fill="#5252f4"/>
<circle cx="531.5" cy="396.5" r="1.45" fill="#1e1e1e"/>
<circle cx="561.5" cy="408.5" r="1.45" fill="#1e1e1e"/>
</svg>
</body></html>
